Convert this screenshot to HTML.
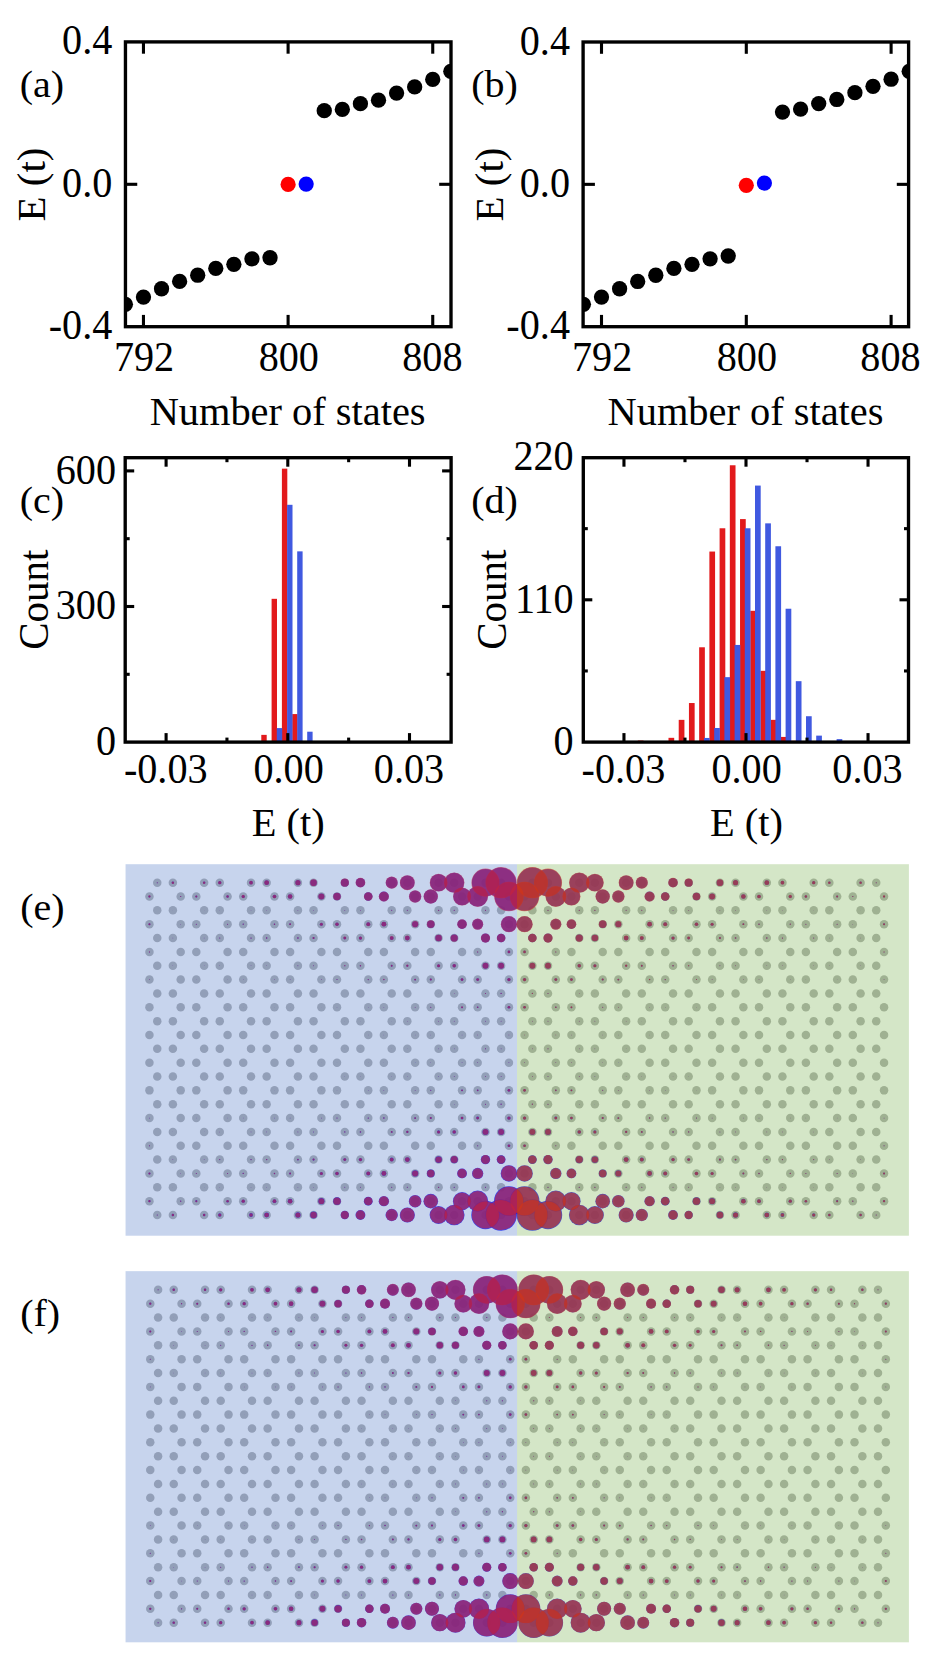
<!DOCTYPE html>
<html><head><meta charset="utf-8"><title>figure</title>
<style>
html,body{margin:0;padding:0;background:#fff;}
body{width:937px;height:1669px;overflow:hidden;font-family:"Liberation Serif",serif;}
svg{display:block;}
</style></head><body>
<svg width="937" height="1669" viewBox="0 0 937 1669">
<rect width="937" height="1669" fill="#fff"/>
<g fill="#000" font-family="'Liberation Serif',serif" font-size="40.2">
<clipPath id="clip1"><rect x="125.45" y="41.9" width="325.55" height="284.8"/></clipPath>
<g clip-path="url(#clip1)">
<circle cx="125.38" cy="304.31" r="7.65"/>
<circle cx="143.46" cy="297.05" r="7.65"/>
<circle cx="161.54" cy="288.75" r="7.65"/>
<circle cx="179.62" cy="281.45" r="7.65"/>
<circle cx="197.7" cy="275.22" r="7.65"/>
<circle cx="215.78" cy="268.42" r="7.65"/>
<circle cx="233.86" cy="264.33" r="7.65"/>
<circle cx="251.94" cy="258.81" r="7.65"/>
<circle cx="270.02" cy="257.74" r="7.65"/>
<circle cx="324.26" cy="110.71" r="7.65"/>
<circle cx="342.34" cy="109.43" r="7.65"/>
<circle cx="360.42" cy="103.63" r="7.65"/>
<circle cx="378.5" cy="100.14" r="7.65"/>
<circle cx="396.58" cy="93.06" r="7.65"/>
<circle cx="414.66" cy="86.9" r="7.65"/>
<circle cx="432.74" cy="79.46" r="7.65"/>
<circle cx="450.82" cy="71.31" r="7.65"/>
<circle cx="288.1" cy="184.44" r="7.6" fill="#ff0000"/>
<circle cx="306.18" cy="184.05" r="7.6" fill="#0000ff"/>
</g>
<rect x="125.45" y="41.9" width="325.55" height="284.8" fill="none" stroke="#000" stroke-width="3.35"/>
<line x1="143.46" y1="326.7" x2="143.46" y2="314.9" stroke="#000" stroke-width="3.1"/>
<line x1="143.46" y1="41.9" x2="143.46" y2="53.7" stroke="#000" stroke-width="3.1"/>
<line x1="288.1" y1="326.7" x2="288.1" y2="314.9" stroke="#000" stroke-width="3.1"/>
<line x1="288.1" y1="41.9" x2="288.1" y2="53.7" stroke="#000" stroke-width="3.1"/>
<line x1="432.74" y1="326.7" x2="432.74" y2="314.9" stroke="#000" stroke-width="3.1"/>
<line x1="432.74" y1="41.9" x2="432.74" y2="53.7" stroke="#000" stroke-width="3.1"/>
<line x1="125.45" y1="184.3" x2="137.25" y2="184.3" stroke="#000" stroke-width="3.1"/>
<line x1="451" y1="184.3" x2="439.2" y2="184.3" stroke="#000" stroke-width="3.1"/>
<text text-anchor="end" transform="translate(112.3 54.4) scale(1 1.045)">0.4</text>
<text text-anchor="end" transform="translate(112.3 196.8) scale(1 1.045)">0.0</text>
<text text-anchor="end" transform="translate(112.3 339.2) scale(1 1.045)">-0.4</text>
<text text-anchor="middle" transform="translate(144.05 371.3) scale(1 1.045)">792</text>
<text text-anchor="middle" transform="translate(288.8 371.3) scale(1 1.045)">800</text>
<text text-anchor="middle" transform="translate(432.35 371.3) scale(1 1.045)">808</text>
<text text-anchor="middle" font-size="40.4" transform="translate(287.6 424.7) scale(1 1.01)">Number of states</text>
<text text-anchor="middle" font-size="41.0" transform="translate(44.9 184.5) rotate(-90)">E (t)</text>
<text text-anchor="start" font-size="40.0" transform="translate(19.7 96.8) scale(1 0.95)">(a)</text>
<clipPath id="clip2"><rect x="583.1" y="42" width="325.5" height="284.7"/></clipPath>
<g clip-path="url(#clip2)">
<circle cx="583.4" cy="304.32" r="7.65"/>
<circle cx="601.5" cy="297.06" r="7.65"/>
<circle cx="619.6" cy="288.76" r="7.65"/>
<circle cx="637.7" cy="281.47" r="7.65"/>
<circle cx="655.8" cy="275.24" r="7.65"/>
<circle cx="673.9" cy="268.44" r="7.65"/>
<circle cx="692" cy="264.35" r="7.65"/>
<circle cx="710.1" cy="258.83" r="7.65"/>
<circle cx="728.2" cy="256.02" r="7.65"/>
<circle cx="782.5" cy="112.11" r="7.65"/>
<circle cx="800.6" cy="109.08" r="7.65"/>
<circle cx="818.7" cy="103.57" r="7.65"/>
<circle cx="836.8" cy="99.47" r="7.65"/>
<circle cx="854.9" cy="92.64" r="7.65"/>
<circle cx="873" cy="86.31" r="7.65"/>
<circle cx="891.1" cy="79.22" r="7.65"/>
<circle cx="909.2" cy="71.32" r="7.65"/>
<circle cx="746.3" cy="185.31" r="7.6" fill="#ff0000"/>
<circle cx="764.4" cy="183.03" r="7.6" fill="#0000ff"/>
</g>
<rect x="583.1" y="42" width="325.5" height="284.7" fill="none" stroke="#000" stroke-width="3.35"/>
<line x1="601.5" y1="326.7" x2="601.5" y2="314.9" stroke="#000" stroke-width="3.1"/>
<line x1="601.5" y1="42" x2="601.5" y2="53.8" stroke="#000" stroke-width="3.1"/>
<line x1="746.3" y1="326.7" x2="746.3" y2="314.9" stroke="#000" stroke-width="3.1"/>
<line x1="746.3" y1="42" x2="746.3" y2="53.8" stroke="#000" stroke-width="3.1"/>
<line x1="891.1" y1="326.7" x2="891.1" y2="314.9" stroke="#000" stroke-width="3.1"/>
<line x1="891.1" y1="42" x2="891.1" y2="53.8" stroke="#000" stroke-width="3.1"/>
<line x1="583.1" y1="184.35" x2="594.9" y2="184.35" stroke="#000" stroke-width="3.1"/>
<line x1="908.6" y1="184.35" x2="896.8" y2="184.35" stroke="#000" stroke-width="3.1"/>
<text text-anchor="end" transform="translate(570 54.5) scale(1 1.045)">0.4</text>
<text text-anchor="end" transform="translate(570 196.85) scale(1 1.045)">0.0</text>
<text text-anchor="end" transform="translate(570 339.2) scale(1 1.045)">-0.4</text>
<text text-anchor="middle" transform="translate(602.1 371.3) scale(1 1.045)">792</text>
<text text-anchor="middle" transform="translate(746.9 371.3) scale(1 1.045)">800</text>
<text text-anchor="middle" transform="translate(890.5 371.3) scale(1 1.045)">808</text>
<text text-anchor="middle" font-size="40.4" transform="translate(745.5 424.7) scale(1 1.01)">Number of states</text>
<text text-anchor="middle" font-size="41.0" transform="translate(502.6 184.5) rotate(-90)">E (t)</text>
<text text-anchor="start" font-size="40.0" transform="translate(471.3 97) scale(1 0.95)">(b)</text>
</g>
<g fill="#000" font-family="'Liberation Serif',serif" font-size="40.2">
<rect x="261.3" y="734.87" width="5.4" height="7.23" fill="#e21a1c"/>
<rect x="271.6" y="598.82" width="5.4" height="143.28" fill="#e21a1c"/>
<rect x="281.9" y="468.64" width="5.4" height="273.46" fill="#e21a1c"/>
<rect x="292.2" y="714.08" width="5.4" height="28.02" fill="#e21a1c"/>
<rect x="276.8" y="728.09" width="5.4" height="14.01" fill="#4059e0"/>
<rect x="287.1" y="504.8" width="5.4" height="237.3" fill="#4059e0"/>
<rect x="297.2" y="551.36" width="5.4" height="190.74" fill="#4059e0"/>
<rect x="307.2" y="731.7" width="5.4" height="10.4" fill="#4059e0"/>
<rect x="125.2" y="457.7" width="325.9" height="284.4" fill="none" stroke="#000" stroke-width="3.35"/>
<line x1="166.1" y1="742.1" x2="166.1" y2="733.1" stroke="#000" stroke-width="3.1"/>
<line x1="166.1" y1="457.7" x2="166.1" y2="466.7" stroke="#000" stroke-width="3.1"/>
<line x1="287.8" y1="742.1" x2="287.8" y2="733.1" stroke="#000" stroke-width="3.1"/>
<line x1="287.8" y1="457.7" x2="287.8" y2="466.7" stroke="#000" stroke-width="3.1"/>
<line x1="409.5" y1="742.1" x2="409.5" y2="733.1" stroke="#000" stroke-width="3.1"/>
<line x1="409.5" y1="457.7" x2="409.5" y2="466.7" stroke="#000" stroke-width="3.1"/>
<line x1="226.95" y1="742.1" x2="226.95" y2="737.6" stroke="#000" stroke-width="3.1"/>
<line x1="226.95" y1="457.7" x2="226.95" y2="462.2" stroke="#000" stroke-width="3.1"/>
<line x1="348.65" y1="742.1" x2="348.65" y2="737.6" stroke="#000" stroke-width="3.1"/>
<line x1="348.65" y1="457.7" x2="348.65" y2="462.2" stroke="#000" stroke-width="3.1"/>
<line x1="125.2" y1="470.9" x2="134.2" y2="470.9" stroke="#000" stroke-width="3.1"/>
<line x1="451.1" y1="470.9" x2="442.1" y2="470.9" stroke="#000" stroke-width="3.1"/>
<text text-anchor="end" transform="translate(116 483.6) scale(1 1.045)">600</text>
<line x1="125.2" y1="606.5" x2="134.2" y2="606.5" stroke="#000" stroke-width="3.1"/>
<line x1="451.1" y1="606.5" x2="442.1" y2="606.5" stroke="#000" stroke-width="3.1"/>
<text text-anchor="end" transform="translate(116 619.2) scale(1 1.045)">300</text>
<text text-anchor="end" transform="translate(116 754.8) scale(1 1.045)">0</text>
<line x1="125.2" y1="538.7" x2="129.7" y2="538.7" stroke="#000" stroke-width="3.1"/>
<line x1="451.1" y1="538.7" x2="446.6" y2="538.7" stroke="#000" stroke-width="3.1"/>
<line x1="125.2" y1="674.3" x2="129.7" y2="674.3" stroke="#000" stroke-width="3.1"/>
<line x1="451.1" y1="674.3" x2="446.6" y2="674.3" stroke="#000" stroke-width="3.1"/>
<text text-anchor="middle" transform="translate(165.75 782.9) scale(1 1.045)">-0.03</text>
<text text-anchor="middle" transform="translate(288.6 782.9) scale(1 1.045)">0.00</text>
<text text-anchor="middle" transform="translate(409 782.9) scale(1 1.045)">0.03</text>
<text text-anchor="middle" font-size="40.4" transform="translate(288.2 835.8) scale(1 1.01)">E (t)</text>
<text text-anchor="middle" font-size="41.0" transform="translate(47.9 599.65) rotate(-90) scale(1 1.05)">Count</text>
<text text-anchor="start" font-size="40.0" transform="translate(19.8 513.1) scale(1 0.95)">(c)</text>
<rect x="637.8" y="740.55" width="5.7" height="1.55" fill="#e21a1c"/>
<rect x="668.5" y="737.83" width="5.7" height="4.27" fill="#e21a1c"/>
<rect x="678.72" y="719.85" width="5.7" height="22.25" fill="#e21a1c"/>
<rect x="688.94" y="703.03" width="5.7" height="39.07" fill="#e21a1c"/>
<rect x="699.16" y="647.28" width="5.7" height="94.82" fill="#e21a1c"/>
<rect x="709.38" y="551.55" width="5.7" height="190.55" fill="#e21a1c"/>
<rect x="719.6" y="528.27" width="5.7" height="213.83" fill="#e21a1c"/>
<rect x="729.82" y="465.27" width="5.7" height="276.83" fill="#e21a1c"/>
<rect x="740.04" y="519.08" width="5.7" height="223.02" fill="#e21a1c"/>
<rect x="750.26" y="610.8" width="5.7" height="131.3" fill="#e21a1c"/>
<rect x="760.48" y="670.82" width="5.7" height="71.28" fill="#e21a1c"/>
<rect x="770.7" y="719.85" width="5.7" height="22.25" fill="#e21a1c"/>
<rect x="780.92" y="736.93" width="5.7" height="5.17" fill="#e21a1c"/>
<rect x="791.14" y="740.81" width="5.7" height="1.29" fill="#e21a1c"/>
<rect x="704" y="737.96" width="5.7" height="4.14" fill="#4059e0"/>
<rect x="714.2" y="728" width="5.7" height="14.1" fill="#4059e0"/>
<rect x="724.4" y="677.16" width="5.7" height="64.94" fill="#4059e0"/>
<rect x="734.6" y="644.95" width="5.7" height="97.15" fill="#4059e0"/>
<rect x="744.8" y="528.27" width="5.7" height="213.83" fill="#4059e0"/>
<rect x="755" y="485.58" width="5.7" height="256.52" fill="#4059e0"/>
<rect x="765.2" y="523.35" width="5.7" height="218.75" fill="#4059e0"/>
<rect x="775.4" y="546.25" width="5.7" height="195.85" fill="#4059e0"/>
<rect x="785.6" y="608.73" width="5.7" height="133.37" fill="#4059e0"/>
<rect x="795.8" y="681.17" width="5.7" height="60.93" fill="#4059e0"/>
<rect x="806" y="716.23" width="5.7" height="25.87" fill="#4059e0"/>
<rect x="816.2" y="735.63" width="5.7" height="6.47" fill="#4059e0"/>
<rect x="826.4" y="742.1" width="5.7" height="0" fill="#4059e0"/>
<rect x="836.6" y="739.12" width="5.7" height="2.98" fill="#4059e0"/>
<rect x="583.3" y="457.7" width="325.2" height="284.4" fill="none" stroke="#000" stroke-width="3.35"/>
<line x1="623.96" y1="742.1" x2="623.96" y2="733.1" stroke="#000" stroke-width="3.1"/>
<line x1="623.96" y1="457.7" x2="623.96" y2="466.7" stroke="#000" stroke-width="3.1"/>
<line x1="746" y1="742.1" x2="746" y2="733.1" stroke="#000" stroke-width="3.1"/>
<line x1="746" y1="457.7" x2="746" y2="466.7" stroke="#000" stroke-width="3.1"/>
<line x1="868.04" y1="742.1" x2="868.04" y2="733.1" stroke="#000" stroke-width="3.1"/>
<line x1="868.04" y1="457.7" x2="868.04" y2="466.7" stroke="#000" stroke-width="3.1"/>
<line x1="684.98" y1="742.1" x2="684.98" y2="737.6" stroke="#000" stroke-width="3.1"/>
<line x1="684.98" y1="457.7" x2="684.98" y2="462.2" stroke="#000" stroke-width="3.1"/>
<line x1="807.02" y1="742.1" x2="807.02" y2="737.6" stroke="#000" stroke-width="3.1"/>
<line x1="807.02" y1="457.7" x2="807.02" y2="462.2" stroke="#000" stroke-width="3.1"/>
<text text-anchor="end" transform="translate(573.7 470.21) scale(1 1.045)">220</text>
<line x1="583.3" y1="599.8" x2="592.3" y2="599.8" stroke="#000" stroke-width="3.1"/>
<line x1="908.5" y1="599.8" x2="899.5" y2="599.8" stroke="#000" stroke-width="3.1"/>
<text text-anchor="end" transform="translate(573.7 612.5) scale(1 1.045)">110</text>
<text text-anchor="end" transform="translate(573.7 754.8) scale(1 1.045)">0</text>
<line x1="583.3" y1="528.66" x2="587.8" y2="528.66" stroke="#000" stroke-width="3.1"/>
<line x1="908.5" y1="528.66" x2="904" y2="528.66" stroke="#000" stroke-width="3.1"/>
<line x1="583.3" y1="670.95" x2="587.8" y2="670.95" stroke="#000" stroke-width="3.1"/>
<line x1="908.5" y1="670.95" x2="904" y2="670.95" stroke="#000" stroke-width="3.1"/>
<text text-anchor="middle" transform="translate(623.4 782.9) scale(1 1.045)">-0.03</text>
<text text-anchor="middle" transform="translate(746.6 782.9) scale(1 1.045)">0.00</text>
<text text-anchor="middle" transform="translate(867.5 782.9) scale(1 1.045)">0.03</text>
<text text-anchor="middle" font-size="40.4" transform="translate(746.5 835.8) scale(1 1.01)">E (t)</text>
<text text-anchor="middle" font-size="41.0" transform="translate(506.2 599.65) rotate(-90) scale(1 1.05)">Count</text>
<text text-anchor="start" font-size="40.0" transform="translate(471.3 513) scale(1 0.95)">(d)</text>
</g>
<defs><g id="ro1">
<circle cx="157.25" r="4.25"/>
<circle cx="172.88" r="4.25"/>
<circle cx="204.14" r="4.25"/>
<circle cx="219.77" r="4.25"/>
<circle cx="251.03" r="4.25"/>
<circle cx="266.66" r="4.25"/>
<circle cx="297.92" r="4.25"/>
<circle cx="313.55" r="4.25"/>
<circle cx="344.81" r="4.25"/>
<circle cx="360.44" r="4.25"/>
<circle cx="391.7" r="4.25"/>
<circle cx="407.33" r="4.25"/>
<circle cx="438.59" r="4.25"/>
<circle cx="454.22" r="4.25"/>
<circle cx="485.48" r="4.25"/>
<circle cx="501.11" r="4.25"/>
<circle cx="532.37" r="4.25"/>
<circle cx="548" r="4.25"/>
<circle cx="579.26" r="4.25"/>
<circle cx="594.89" r="4.25"/>
<circle cx="626.15" r="4.25"/>
<circle cx="641.78" r="4.25"/>
<circle cx="673.04" r="4.25"/>
<circle cx="688.67" r="4.25"/>
<circle cx="719.93" r="4.25"/>
<circle cx="735.56" r="4.25"/>
<circle cx="766.82" r="4.25"/>
<circle cx="782.45" r="4.25"/>
<circle cx="813.71" r="4.25"/>
<circle cx="829.34" r="4.25"/>
<circle cx="860.6" r="4.25"/>
<circle cx="876.23" r="4.25"/>
</g><g id="re1">
<circle cx="149.44" r="4.25"/>
<circle cx="180.69" r="4.25"/>
<circle cx="196.32" r="4.25"/>
<circle cx="227.58" r="4.25"/>
<circle cx="243.22" r="4.25"/>
<circle cx="274.48" r="4.25"/>
<circle cx="290.11" r="4.25"/>
<circle cx="321.37" r="4.25"/>
<circle cx="337" r="4.25"/>
<circle cx="368.25" r="4.25"/>
<circle cx="383.88" r="4.25"/>
<circle cx="415.14" r="4.25"/>
<circle cx="430.78" r="4.25"/>
<circle cx="462.04" r="4.25"/>
<circle cx="477.67" r="4.25"/>
<circle cx="508.93" r="4.25"/>
<circle cx="524.56" r="4.25"/>
<circle cx="555.82" r="4.25"/>
<circle cx="571.44" r="4.25"/>
<circle cx="602.7" r="4.25"/>
<circle cx="618.34" r="4.25"/>
<circle cx="649.6" r="4.25"/>
<circle cx="665.22" r="4.25"/>
<circle cx="696.48" r="4.25"/>
<circle cx="712.12" r="4.25"/>
<circle cx="743.38" r="4.25"/>
<circle cx="759.01" r="4.25"/>
<circle cx="790.27" r="4.25"/>
<circle cx="805.89" r="4.25"/>
<circle cx="837.15" r="4.25"/>
<circle cx="852.79" r="4.25"/>
<circle cx="884.05" r="4.25"/>
</g></defs>
<g fill="#b4b4b4">
<use href="#ro1" y="882.65"/>
<use href="#re1" y="896.5"/>
<use href="#ro1" y="910.35"/>
<use href="#re1" y="924.19"/>
<use href="#ro1" y="938.04"/>
<use href="#re1" y="951.89"/>
<use href="#ro1" y="965.74"/>
<use href="#re1" y="979.59"/>
<use href="#ro1" y="993.43"/>
<use href="#re1" y="1007.28"/>
<use href="#ro1" y="1021.13"/>
<use href="#re1" y="1034.98"/>
<use href="#ro1" y="1048.83"/>
<use href="#re1" y="1062.67"/>
<use href="#ro1" y="1076.52"/>
<use href="#re1" y="1090.37"/>
<use href="#ro1" y="1104.22"/>
<use href="#re1" y="1118.07"/>
<use href="#ro1" y="1131.91"/>
<use href="#re1" y="1145.76"/>
<use href="#ro1" y="1159.61"/>
<use href="#re1" y="1173.46"/>
<use href="#ro1" y="1187.31"/>
<use href="#re1" y="1201.15"/>
<use href="#ro1" y="1215"/>
</g>
<g fill="#0000ff" fill-opacity="0.8">
<circle cx="157.25" cy="882.65" r="0.5"/>
<circle cx="172.88" cy="882.65" r="1.2"/>
<circle cx="204.14" cy="882.65" r="1.2"/>
<circle cx="219.77" cy="882.65" r="1.6"/>
<circle cx="251.03" cy="882.65" r="1.8"/>
<circle cx="266.66" cy="882.65" r="2.35"/>
<circle cx="297.92" cy="882.65" r="2.55"/>
<circle cx="313.55" cy="882.65" r="3.25"/>
<circle cx="344.81" cy="882.65" r="3.95"/>
<circle cx="360.44" cy="882.65" r="4.7"/>
<circle cx="391.7" cy="882.65" r="5.9"/>
<circle cx="407.33" cy="882.65" r="7.25"/>
<circle cx="438.59" cy="882.65" r="8.6"/>
<circle cx="454.22" cy="882.65" r="9.9"/>
<circle cx="485.48" cy="882.65" r="13.6"/>
<circle cx="501.11" cy="882.65" r="15.1"/>
<circle cx="532.37" cy="882.65" r="15.1"/>
<circle cx="548" cy="882.65" r="13.6"/>
<circle cx="579.26" cy="882.65" r="9.9"/>
<circle cx="594.89" cy="882.65" r="8.6"/>
<circle cx="626.15" cy="882.65" r="7.25"/>
<circle cx="641.78" cy="882.65" r="5.9"/>
<circle cx="673.04" cy="882.65" r="4.7"/>
<circle cx="688.67" cy="882.65" r="3.95"/>
<circle cx="719.93" cy="882.65" r="3.25"/>
<circle cx="735.56" cy="882.65" r="2.55"/>
<circle cx="766.82" cy="882.65" r="2.35"/>
<circle cx="782.45" cy="882.65" r="1.8"/>
<circle cx="813.71" cy="882.65" r="1.6"/>
<circle cx="829.34" cy="882.65" r="1.2"/>
<circle cx="860.6" cy="882.65" r="1.2"/>
<circle cx="876.23" cy="882.65" r="0.5"/>
<circle cx="149.44" cy="896.5" r="1.1"/>
<circle cx="180.69" cy="896.5" r="0.6"/>
<circle cx="196.32" cy="896.5" r="1"/>
<circle cx="227.58" cy="896.5" r="1.2"/>
<circle cx="243.22" cy="896.5" r="1.6"/>
<circle cx="274.48" cy="896.5" r="1.8"/>
<circle cx="290.11" cy="896.5" r="2.25"/>
<circle cx="321.37" cy="896.5" r="2.95"/>
<circle cx="337" cy="896.5" r="3.65"/>
<circle cx="368.25" cy="896.5" r="4.2"/>
<circle cx="383.88" cy="896.5" r="4.96"/>
<circle cx="415.14" cy="896.5" r="6"/>
<circle cx="430.78" cy="896.5" r="7"/>
<circle cx="462.04" cy="896.5" r="8.75"/>
<circle cx="477.67" cy="896.5" r="10.1"/>
<circle cx="508.93" cy="896.5" r="14.3"/>
<circle cx="524.56" cy="896.5" r="14.3"/>
<circle cx="555.82" cy="896.5" r="10.1"/>
<circle cx="571.44" cy="896.5" r="8.75"/>
<circle cx="602.7" cy="896.5" r="7"/>
<circle cx="618.34" cy="896.5" r="6"/>
<circle cx="649.6" cy="896.5" r="4.96"/>
<circle cx="665.22" cy="896.5" r="4.2"/>
<circle cx="696.48" cy="896.5" r="3.65"/>
<circle cx="712.12" cy="896.5" r="2.95"/>
<circle cx="743.38" cy="896.5" r="2.25"/>
<circle cx="759.01" cy="896.5" r="1.8"/>
<circle cx="790.27" cy="896.5" r="1.6"/>
<circle cx="805.89" cy="896.5" r="1.2"/>
<circle cx="837.15" cy="896.5" r="1"/>
<circle cx="852.79" cy="896.5" r="0.6"/>
<circle cx="884.05" cy="896.5" r="1.1"/>
<circle cx="172.88" cy="910.35" r="0.12"/>
<circle cx="204.14" cy="910.35" r="0.16"/>
<circle cx="219.77" cy="910.35" r="0.19"/>
<circle cx="251.03" cy="910.35" r="0.23"/>
<circle cx="266.66" cy="910.35" r="0.25"/>
<circle cx="297.92" cy="910.35" r="0.3"/>
<circle cx="313.55" cy="910.35" r="0.3"/>
<circle cx="344.81" cy="910.35" r="0.45"/>
<circle cx="360.44" cy="910.35" r="0.45"/>
<circle cx="391.7" cy="910.35" r="0.5"/>
<circle cx="407.33" cy="910.35" r="0.5"/>
<circle cx="438.59" cy="910.35" r="0.6"/>
<circle cx="454.22" cy="910.35" r="0.55"/>
<circle cx="485.48" cy="910.35" r="0.55"/>
<circle cx="548" cy="910.35" r="0.55"/>
<circle cx="579.26" cy="910.35" r="0.55"/>
<circle cx="594.89" cy="910.35" r="0.6"/>
<circle cx="626.15" cy="910.35" r="0.5"/>
<circle cx="641.78" cy="910.35" r="0.5"/>
<circle cx="673.04" cy="910.35" r="0.45"/>
<circle cx="688.67" cy="910.35" r="0.45"/>
<circle cx="719.93" cy="910.35" r="0.3"/>
<circle cx="735.56" cy="910.35" r="0.3"/>
<circle cx="766.82" cy="910.35" r="0.25"/>
<circle cx="782.45" cy="910.35" r="0.23"/>
<circle cx="813.71" cy="910.35" r="0.19"/>
<circle cx="829.34" cy="910.35" r="0.16"/>
<circle cx="860.6" cy="910.35" r="0.12"/>
<circle cx="149.44" cy="924.19" r="1"/>
<circle cx="180.69" cy="924.19" r="0.3"/>
<circle cx="196.32" cy="924.19" r="0.5"/>
<circle cx="227.58" cy="924.19" r="0.5"/>
<circle cx="243.22" cy="924.19" r="0.6"/>
<circle cx="274.48" cy="924.19" r="0.7"/>
<circle cx="290.11" cy="924.19" r="0.9"/>
<circle cx="321.37" cy="924.19" r="1.5"/>
<circle cx="337" cy="924.19" r="1.7"/>
<circle cx="368.25" cy="924.19" r="1.9"/>
<circle cx="383.88" cy="924.19" r="2.35"/>
<circle cx="415.14" cy="924.19" r="3"/>
<circle cx="430.78" cy="924.19" r="3.7"/>
<circle cx="462.04" cy="924.19" r="4.7"/>
<circle cx="477.67" cy="924.19" r="5.4"/>
<circle cx="508.93" cy="924.19" r="7.9"/>
<circle cx="524.56" cy="924.19" r="7.9"/>
<circle cx="555.82" cy="924.19" r="5.4"/>
<circle cx="571.44" cy="924.19" r="4.7"/>
<circle cx="602.7" cy="924.19" r="3.7"/>
<circle cx="618.34" cy="924.19" r="3"/>
<circle cx="649.6" cy="924.19" r="2.35"/>
<circle cx="665.22" cy="924.19" r="1.9"/>
<circle cx="696.48" cy="924.19" r="1.7"/>
<circle cx="712.12" cy="924.19" r="1.5"/>
<circle cx="743.38" cy="924.19" r="0.9"/>
<circle cx="759.01" cy="924.19" r="0.7"/>
<circle cx="790.27" cy="924.19" r="0.6"/>
<circle cx="805.89" cy="924.19" r="0.5"/>
<circle cx="837.15" cy="924.19" r="0.5"/>
<circle cx="852.79" cy="924.19" r="0.3"/>
<circle cx="884.05" cy="924.19" r="1"/>
<circle cx="172.88" cy="938.04" r="0.3"/>
<circle cx="204.14" cy="938.04" r="0.3"/>
<circle cx="219.77" cy="938.04" r="0.5"/>
<circle cx="251.03" cy="938.04" r="0.6"/>
<circle cx="266.66" cy="938.04" r="0.7"/>
<circle cx="297.92" cy="938.04" r="0.8"/>
<circle cx="313.55" cy="938.04" r="1"/>
<circle cx="344.81" cy="938.04" r="1.4"/>
<circle cx="360.44" cy="938.04" r="1.6"/>
<circle cx="391.7" cy="938.04" r="1.9"/>
<circle cx="407.33" cy="938.04" r="2.35"/>
<circle cx="438.59" cy="938.04" r="3.2"/>
<circle cx="454.22" cy="938.04" r="3.5"/>
<circle cx="485.48" cy="938.04" r="4.5"/>
<circle cx="501.11" cy="938.04" r="4.2"/>
<circle cx="532.37" cy="938.04" r="4.2"/>
<circle cx="548" cy="938.04" r="4.5"/>
<circle cx="579.26" cy="938.04" r="3.5"/>
<circle cx="594.89" cy="938.04" r="3.2"/>
<circle cx="626.15" cy="938.04" r="2.35"/>
<circle cx="641.78" cy="938.04" r="1.9"/>
<circle cx="673.04" cy="938.04" r="1.6"/>
<circle cx="688.67" cy="938.04" r="1.4"/>
<circle cx="719.93" cy="938.04" r="1"/>
<circle cx="735.56" cy="938.04" r="0.8"/>
<circle cx="766.82" cy="938.04" r="0.7"/>
<circle cx="782.45" cy="938.04" r="0.6"/>
<circle cx="813.71" cy="938.04" r="0.5"/>
<circle cx="829.34" cy="938.04" r="0.3"/>
<circle cx="860.6" cy="938.04" r="0.3"/>
<circle cx="149.44" cy="951.89" r="0.5"/>
<circle cx="462.04" cy="951.89" r="0.15"/>
<circle cx="477.67" cy="951.89" r="0.5"/>
<circle cx="508.93" cy="951.89" r="1.3"/>
<circle cx="524.56" cy="951.89" r="1.3"/>
<circle cx="555.82" cy="951.89" r="0.5"/>
<circle cx="571.44" cy="951.89" r="0.15"/>
<circle cx="884.05" cy="951.89" r="0.5"/>
<circle cx="172.88" cy="965.74" r="0.2"/>
<circle cx="204.14" cy="965.74" r="0.2"/>
<circle cx="219.77" cy="965.74" r="0.25"/>
<circle cx="251.03" cy="965.74" r="0.3"/>
<circle cx="266.66" cy="965.74" r="0.3"/>
<circle cx="297.92" cy="965.74" r="0.4"/>
<circle cx="313.55" cy="965.74" r="0.45"/>
<circle cx="344.81" cy="965.74" r="0.6"/>
<circle cx="360.44" cy="965.74" r="0.7"/>
<circle cx="391.7" cy="965.74" r="0.9"/>
<circle cx="407.33" cy="965.74" r="1.1"/>
<circle cx="438.59" cy="965.74" r="1.5"/>
<circle cx="454.22" cy="965.74" r="1.7"/>
<circle cx="485.48" cy="965.74" r="2.9"/>
<circle cx="501.11" cy="965.74" r="2.9"/>
<circle cx="532.37" cy="965.74" r="2.9"/>
<circle cx="548" cy="965.74" r="2.9"/>
<circle cx="579.26" cy="965.74" r="1.7"/>
<circle cx="594.89" cy="965.74" r="1.5"/>
<circle cx="626.15" cy="965.74" r="1.1"/>
<circle cx="641.78" cy="965.74" r="0.9"/>
<circle cx="673.04" cy="965.74" r="0.7"/>
<circle cx="688.67" cy="965.74" r="0.6"/>
<circle cx="719.93" cy="965.74" r="0.45"/>
<circle cx="735.56" cy="965.74" r="0.4"/>
<circle cx="766.82" cy="965.74" r="0.3"/>
<circle cx="782.45" cy="965.74" r="0.3"/>
<circle cx="813.71" cy="965.74" r="0.25"/>
<circle cx="829.34" cy="965.74" r="0.2"/>
<circle cx="860.6" cy="965.74" r="0.2"/>
<circle cx="149.44" cy="979.59" r="0.4"/>
<circle cx="196.32" cy="979.59" r="0.2"/>
<circle cx="227.58" cy="979.59" r="0.2"/>
<circle cx="243.22" cy="979.59" r="0.25"/>
<circle cx="274.48" cy="979.59" r="0.3"/>
<circle cx="290.11" cy="979.59" r="0.3"/>
<circle cx="321.37" cy="979.59" r="0.4"/>
<circle cx="337" cy="979.59" r="0.5"/>
<circle cx="368.25" cy="979.59" r="0.6"/>
<circle cx="383.88" cy="979.59" r="0.7"/>
<circle cx="415.14" cy="979.59" r="0.9"/>
<circle cx="430.78" cy="979.59" r="1"/>
<circle cx="462.04" cy="979.59" r="1.3"/>
<circle cx="477.67" cy="979.59" r="1.4"/>
<circle cx="508.93" cy="979.59" r="1.6"/>
<circle cx="524.56" cy="979.59" r="1.6"/>
<circle cx="555.82" cy="979.59" r="1.4"/>
<circle cx="571.44" cy="979.59" r="1.3"/>
<circle cx="602.7" cy="979.59" r="1"/>
<circle cx="618.34" cy="979.59" r="0.9"/>
<circle cx="649.6" cy="979.59" r="0.7"/>
<circle cx="665.22" cy="979.59" r="0.6"/>
<circle cx="696.48" cy="979.59" r="0.5"/>
<circle cx="712.12" cy="979.59" r="0.4"/>
<circle cx="743.38" cy="979.59" r="0.3"/>
<circle cx="759.01" cy="979.59" r="0.3"/>
<circle cx="790.27" cy="979.59" r="0.25"/>
<circle cx="805.89" cy="979.59" r="0.2"/>
<circle cx="837.15" cy="979.59" r="0.2"/>
<circle cx="884.05" cy="979.59" r="0.4"/>
<circle cx="438.59" cy="993.43" r="0.15"/>
<circle cx="454.22" cy="993.43" r="0.3"/>
<circle cx="485.48" cy="993.43" r="0.5"/>
<circle cx="501.11" cy="993.43" r="0.6"/>
<circle cx="532.37" cy="993.43" r="0.6"/>
<circle cx="548" cy="993.43" r="0.5"/>
<circle cx="579.26" cy="993.43" r="0.3"/>
<circle cx="594.89" cy="993.43" r="0.15"/>
<circle cx="227.58" cy="1007.28" r="0.12"/>
<circle cx="243.22" cy="1007.28" r="0.13"/>
<circle cx="274.48" cy="1007.28" r="0.14"/>
<circle cx="290.11" cy="1007.28" r="0.14"/>
<circle cx="321.37" cy="1007.28" r="0.15"/>
<circle cx="337" cy="1007.28" r="0.18"/>
<circle cx="368.25" cy="1007.28" r="0.25"/>
<circle cx="383.88" cy="1007.28" r="0.3"/>
<circle cx="415.14" cy="1007.28" r="0.4"/>
<circle cx="430.78" cy="1007.28" r="0.5"/>
<circle cx="462.04" cy="1007.28" r="0.9"/>
<circle cx="477.67" cy="1007.28" r="0.8"/>
<circle cx="508.93" cy="1007.28" r="1.3"/>
<circle cx="524.56" cy="1007.28" r="1.3"/>
<circle cx="555.82" cy="1007.28" r="0.8"/>
<circle cx="571.44" cy="1007.28" r="0.9"/>
<circle cx="602.7" cy="1007.28" r="0.5"/>
<circle cx="618.34" cy="1007.28" r="0.4"/>
<circle cx="649.6" cy="1007.28" r="0.3"/>
<circle cx="665.22" cy="1007.28" r="0.25"/>
<circle cx="696.48" cy="1007.28" r="0.18"/>
<circle cx="712.12" cy="1007.28" r="0.15"/>
<circle cx="743.38" cy="1007.28" r="0.14"/>
<circle cx="759.01" cy="1007.28" r="0.14"/>
<circle cx="790.27" cy="1007.28" r="0.13"/>
<circle cx="805.89" cy="1007.28" r="0.12"/>
<circle cx="297.92" cy="1021.13" r="0.12"/>
<circle cx="313.55" cy="1021.13" r="0.13"/>
<circle cx="344.81" cy="1021.13" r="0.16"/>
<circle cx="360.44" cy="1021.13" r="0.17"/>
<circle cx="391.7" cy="1021.13" r="0.2"/>
<circle cx="407.33" cy="1021.13" r="0.25"/>
<circle cx="438.59" cy="1021.13" r="0.35"/>
<circle cx="454.22" cy="1021.13" r="0.4"/>
<circle cx="485.48" cy="1021.13" r="0.45"/>
<circle cx="501.11" cy="1021.13" r="0.4"/>
<circle cx="532.37" cy="1021.13" r="0.4"/>
<circle cx="548" cy="1021.13" r="0.45"/>
<circle cx="579.26" cy="1021.13" r="0.4"/>
<circle cx="594.89" cy="1021.13" r="0.35"/>
<circle cx="626.15" cy="1021.13" r="0.25"/>
<circle cx="641.78" cy="1021.13" r="0.2"/>
<circle cx="673.04" cy="1021.13" r="0.17"/>
<circle cx="688.67" cy="1021.13" r="0.16"/>
<circle cx="719.93" cy="1021.13" r="0.13"/>
<circle cx="321.37" cy="1034.98" r="0.13"/>
<circle cx="337" cy="1034.98" r="0.14"/>
<circle cx="368.25" cy="1034.98" r="0.16"/>
<circle cx="383.88" cy="1034.98" r="0.18"/>
<circle cx="415.14" cy="1034.98" r="0.2"/>
<circle cx="430.78" cy="1034.98" r="0.23"/>
<circle cx="462.04" cy="1034.98" r="0.3"/>
<circle cx="477.67" cy="1034.98" r="0.35"/>
<circle cx="508.93" cy="1034.98" r="0.35"/>
<circle cx="524.56" cy="1034.98" r="0.35"/>
<circle cx="555.82" cy="1034.98" r="0.35"/>
<circle cx="571.44" cy="1034.98" r="0.3"/>
<circle cx="602.7" cy="1034.98" r="0.23"/>
<circle cx="618.34" cy="1034.98" r="0.2"/>
<circle cx="649.6" cy="1034.98" r="0.18"/>
<circle cx="665.22" cy="1034.98" r="0.16"/>
<circle cx="696.48" cy="1034.98" r="0.14"/>
<circle cx="712.12" cy="1034.98" r="0.13"/>
<circle cx="344.81" cy="1048.83" r="0.12"/>
<circle cx="360.44" cy="1048.83" r="0.13"/>
<circle cx="391.7" cy="1048.83" r="0.15"/>
<circle cx="407.33" cy="1048.83" r="0.2"/>
<circle cx="438.59" cy="1048.83" r="0.3"/>
<circle cx="454.22" cy="1048.83" r="0.3"/>
<circle cx="485.48" cy="1048.83" r="0.5"/>
<circle cx="501.11" cy="1048.83" r="0.4"/>
<circle cx="532.37" cy="1048.83" r="0.4"/>
<circle cx="548" cy="1048.83" r="0.5"/>
<circle cx="579.26" cy="1048.83" r="0.3"/>
<circle cx="594.89" cy="1048.83" r="0.3"/>
<circle cx="626.15" cy="1048.83" r="0.2"/>
<circle cx="641.78" cy="1048.83" r="0.15"/>
<circle cx="673.04" cy="1048.83" r="0.13"/>
<circle cx="688.67" cy="1048.83" r="0.12"/>
<circle cx="321.37" cy="1062.67" r="0.14"/>
<circle cx="337" cy="1062.67" r="0.15"/>
<circle cx="368.25" cy="1062.67" r="0.17"/>
<circle cx="383.88" cy="1062.67" r="0.18"/>
<circle cx="415.14" cy="1062.67" r="0.21"/>
<circle cx="430.78" cy="1062.67" r="0.24"/>
<circle cx="462.04" cy="1062.67" r="0.31"/>
<circle cx="477.67" cy="1062.67" r="0.37"/>
<circle cx="508.93" cy="1062.67" r="0.37"/>
<circle cx="524.56" cy="1062.67" r="0.37"/>
<circle cx="555.82" cy="1062.67" r="0.37"/>
<circle cx="571.44" cy="1062.67" r="0.31"/>
<circle cx="602.7" cy="1062.67" r="0.24"/>
<circle cx="618.34" cy="1062.67" r="0.21"/>
<circle cx="649.6" cy="1062.67" r="0.18"/>
<circle cx="665.22" cy="1062.67" r="0.17"/>
<circle cx="696.48" cy="1062.67" r="0.15"/>
<circle cx="712.12" cy="1062.67" r="0.14"/>
<circle cx="297.92" cy="1076.52" r="0.13"/>
<circle cx="313.55" cy="1076.52" r="0.14"/>
<circle cx="344.81" cy="1076.52" r="0.17"/>
<circle cx="360.44" cy="1076.52" r="0.18"/>
<circle cx="391.7" cy="1076.52" r="0.21"/>
<circle cx="407.33" cy="1076.52" r="0.26"/>
<circle cx="438.59" cy="1076.52" r="0.37"/>
<circle cx="454.22" cy="1076.52" r="0.42"/>
<circle cx="485.48" cy="1076.52" r="0.47"/>
<circle cx="501.11" cy="1076.52" r="0.42"/>
<circle cx="532.37" cy="1076.52" r="0.42"/>
<circle cx="548" cy="1076.52" r="0.47"/>
<circle cx="579.26" cy="1076.52" r="0.42"/>
<circle cx="594.89" cy="1076.52" r="0.37"/>
<circle cx="626.15" cy="1076.52" r="0.26"/>
<circle cx="641.78" cy="1076.52" r="0.21"/>
<circle cx="673.04" cy="1076.52" r="0.18"/>
<circle cx="688.67" cy="1076.52" r="0.17"/>
<circle cx="719.93" cy="1076.52" r="0.14"/>
<circle cx="227.58" cy="1090.37" r="0.13"/>
<circle cx="243.22" cy="1090.37" r="0.13"/>
<circle cx="274.48" cy="1090.37" r="0.14"/>
<circle cx="290.11" cy="1090.37" r="0.15"/>
<circle cx="321.37" cy="1090.37" r="0.16"/>
<circle cx="337" cy="1090.37" r="0.19"/>
<circle cx="368.25" cy="1090.37" r="0.26"/>
<circle cx="383.88" cy="1090.37" r="0.31"/>
<circle cx="415.14" cy="1090.37" r="0.42"/>
<circle cx="430.78" cy="1090.37" r="0.52"/>
<circle cx="462.04" cy="1090.37" r="0.94"/>
<circle cx="477.67" cy="1090.37" r="0.84"/>
<circle cx="508.93" cy="1090.37" r="1.36"/>
<circle cx="524.56" cy="1090.37" r="1.36"/>
<circle cx="555.82" cy="1090.37" r="0.84"/>
<circle cx="571.44" cy="1090.37" r="0.94"/>
<circle cx="602.7" cy="1090.37" r="0.52"/>
<circle cx="618.34" cy="1090.37" r="0.42"/>
<circle cx="649.6" cy="1090.37" r="0.31"/>
<circle cx="665.22" cy="1090.37" r="0.26"/>
<circle cx="696.48" cy="1090.37" r="0.19"/>
<circle cx="712.12" cy="1090.37" r="0.16"/>
<circle cx="743.38" cy="1090.37" r="0.15"/>
<circle cx="759.01" cy="1090.37" r="0.14"/>
<circle cx="790.27" cy="1090.37" r="0.13"/>
<circle cx="805.89" cy="1090.37" r="0.13"/>
<circle cx="438.59" cy="1104.22" r="0.16"/>
<circle cx="454.22" cy="1104.22" r="0.31"/>
<circle cx="485.48" cy="1104.22" r="0.52"/>
<circle cx="501.11" cy="1104.22" r="0.63"/>
<circle cx="532.37" cy="1104.22" r="0.63"/>
<circle cx="548" cy="1104.22" r="0.52"/>
<circle cx="579.26" cy="1104.22" r="0.31"/>
<circle cx="594.89" cy="1104.22" r="0.16"/>
<circle cx="149.44" cy="1118.07" r="0.42"/>
<circle cx="196.32" cy="1118.07" r="0.21"/>
<circle cx="227.58" cy="1118.07" r="0.21"/>
<circle cx="243.22" cy="1118.07" r="0.26"/>
<circle cx="274.48" cy="1118.07" r="0.31"/>
<circle cx="290.11" cy="1118.07" r="0.31"/>
<circle cx="321.37" cy="1118.07" r="0.42"/>
<circle cx="337" cy="1118.07" r="0.52"/>
<circle cx="368.25" cy="1118.07" r="0.63"/>
<circle cx="383.88" cy="1118.07" r="0.73"/>
<circle cx="415.14" cy="1118.07" r="0.94"/>
<circle cx="430.78" cy="1118.07" r="1.05"/>
<circle cx="462.04" cy="1118.07" r="1.36"/>
<circle cx="477.67" cy="1118.07" r="1.46"/>
<circle cx="508.93" cy="1118.07" r="1.67"/>
<circle cx="524.56" cy="1118.07" r="1.67"/>
<circle cx="555.82" cy="1118.07" r="1.46"/>
<circle cx="571.44" cy="1118.07" r="1.36"/>
<circle cx="602.7" cy="1118.07" r="1.05"/>
<circle cx="618.34" cy="1118.07" r="0.94"/>
<circle cx="649.6" cy="1118.07" r="0.73"/>
<circle cx="665.22" cy="1118.07" r="0.63"/>
<circle cx="696.48" cy="1118.07" r="0.52"/>
<circle cx="712.12" cy="1118.07" r="0.42"/>
<circle cx="743.38" cy="1118.07" r="0.31"/>
<circle cx="759.01" cy="1118.07" r="0.31"/>
<circle cx="790.27" cy="1118.07" r="0.26"/>
<circle cx="805.89" cy="1118.07" r="0.21"/>
<circle cx="837.15" cy="1118.07" r="0.21"/>
<circle cx="884.05" cy="1118.07" r="0.42"/>
<circle cx="172.88" cy="1131.91" r="0.21"/>
<circle cx="204.14" cy="1131.91" r="0.21"/>
<circle cx="219.77" cy="1131.91" r="0.26"/>
<circle cx="251.03" cy="1131.91" r="0.31"/>
<circle cx="266.66" cy="1131.91" r="0.31"/>
<circle cx="297.92" cy="1131.91" r="0.42"/>
<circle cx="313.55" cy="1131.91" r="0.47"/>
<circle cx="344.81" cy="1131.91" r="0.63"/>
<circle cx="360.44" cy="1131.91" r="0.73"/>
<circle cx="391.7" cy="1131.91" r="0.94"/>
<circle cx="407.33" cy="1131.91" r="1.15"/>
<circle cx="438.59" cy="1131.91" r="1.57"/>
<circle cx="454.22" cy="1131.91" r="1.78"/>
<circle cx="485.48" cy="1131.91" r="3.03"/>
<circle cx="501.11" cy="1131.91" r="3.03"/>
<circle cx="532.37" cy="1131.91" r="3.03"/>
<circle cx="548" cy="1131.91" r="3.03"/>
<circle cx="579.26" cy="1131.91" r="1.78"/>
<circle cx="594.89" cy="1131.91" r="1.57"/>
<circle cx="626.15" cy="1131.91" r="1.15"/>
<circle cx="641.78" cy="1131.91" r="0.94"/>
<circle cx="673.04" cy="1131.91" r="0.73"/>
<circle cx="688.67" cy="1131.91" r="0.63"/>
<circle cx="719.93" cy="1131.91" r="0.47"/>
<circle cx="735.56" cy="1131.91" r="0.42"/>
<circle cx="766.82" cy="1131.91" r="0.31"/>
<circle cx="782.45" cy="1131.91" r="0.31"/>
<circle cx="813.71" cy="1131.91" r="0.26"/>
<circle cx="829.34" cy="1131.91" r="0.21"/>
<circle cx="860.6" cy="1131.91" r="0.21"/>
<circle cx="149.44" cy="1145.76" r="0.52"/>
<circle cx="462.04" cy="1145.76" r="0.16"/>
<circle cx="477.67" cy="1145.76" r="0.52"/>
<circle cx="508.93" cy="1145.76" r="1.36"/>
<circle cx="524.56" cy="1145.76" r="1.36"/>
<circle cx="555.82" cy="1145.76" r="0.52"/>
<circle cx="571.44" cy="1145.76" r="0.16"/>
<circle cx="884.05" cy="1145.76" r="0.52"/>
<circle cx="172.88" cy="1159.61" r="0.31"/>
<circle cx="204.14" cy="1159.61" r="0.31"/>
<circle cx="219.77" cy="1159.61" r="0.52"/>
<circle cx="251.03" cy="1159.61" r="0.63"/>
<circle cx="266.66" cy="1159.61" r="0.73"/>
<circle cx="297.92" cy="1159.61" r="0.84"/>
<circle cx="313.55" cy="1159.61" r="1.04"/>
<circle cx="344.81" cy="1159.61" r="1.46"/>
<circle cx="360.44" cy="1159.61" r="1.67"/>
<circle cx="391.7" cy="1159.61" r="1.99"/>
<circle cx="407.33" cy="1159.61" r="2.46"/>
<circle cx="438.59" cy="1159.61" r="3.34"/>
<circle cx="454.22" cy="1159.61" r="3.66"/>
<circle cx="485.48" cy="1159.61" r="4.7"/>
<circle cx="501.11" cy="1159.61" r="4.39"/>
<circle cx="532.37" cy="1159.61" r="4.39"/>
<circle cx="548" cy="1159.61" r="4.7"/>
<circle cx="579.26" cy="1159.61" r="3.66"/>
<circle cx="594.89" cy="1159.61" r="3.34"/>
<circle cx="626.15" cy="1159.61" r="2.46"/>
<circle cx="641.78" cy="1159.61" r="1.99"/>
<circle cx="673.04" cy="1159.61" r="1.67"/>
<circle cx="688.67" cy="1159.61" r="1.46"/>
<circle cx="719.93" cy="1159.61" r="1.04"/>
<circle cx="735.56" cy="1159.61" r="0.84"/>
<circle cx="766.82" cy="1159.61" r="0.73"/>
<circle cx="782.45" cy="1159.61" r="0.63"/>
<circle cx="813.71" cy="1159.61" r="0.52"/>
<circle cx="829.34" cy="1159.61" r="0.31"/>
<circle cx="860.6" cy="1159.61" r="0.31"/>
<circle cx="149.44" cy="1173.46" r="1.04"/>
<circle cx="180.69" cy="1173.46" r="0.31"/>
<circle cx="196.32" cy="1173.46" r="0.52"/>
<circle cx="227.58" cy="1173.46" r="0.52"/>
<circle cx="243.22" cy="1173.46" r="0.63"/>
<circle cx="274.48" cy="1173.46" r="0.73"/>
<circle cx="290.11" cy="1173.46" r="0.94"/>
<circle cx="321.37" cy="1173.46" r="1.57"/>
<circle cx="337" cy="1173.46" r="1.78"/>
<circle cx="368.25" cy="1173.46" r="1.99"/>
<circle cx="383.88" cy="1173.46" r="2.46"/>
<circle cx="415.14" cy="1173.46" r="3.13"/>
<circle cx="430.78" cy="1173.46" r="3.87"/>
<circle cx="462.04" cy="1173.46" r="4.91"/>
<circle cx="477.67" cy="1173.46" r="5.64"/>
<circle cx="508.93" cy="1173.46" r="8.26"/>
<circle cx="524.56" cy="1173.46" r="8.26"/>
<circle cx="555.82" cy="1173.46" r="5.64"/>
<circle cx="571.44" cy="1173.46" r="4.91"/>
<circle cx="602.7" cy="1173.46" r="3.87"/>
<circle cx="618.34" cy="1173.46" r="3.13"/>
<circle cx="649.6" cy="1173.46" r="2.46"/>
<circle cx="665.22" cy="1173.46" r="1.99"/>
<circle cx="696.48" cy="1173.46" r="1.78"/>
<circle cx="712.12" cy="1173.46" r="1.57"/>
<circle cx="743.38" cy="1173.46" r="0.94"/>
<circle cx="759.01" cy="1173.46" r="0.73"/>
<circle cx="790.27" cy="1173.46" r="0.63"/>
<circle cx="805.89" cy="1173.46" r="0.52"/>
<circle cx="837.15" cy="1173.46" r="0.52"/>
<circle cx="852.79" cy="1173.46" r="0.31"/>
<circle cx="884.05" cy="1173.46" r="1.04"/>
<circle cx="172.88" cy="1187.31" r="0.13"/>
<circle cx="204.14" cy="1187.31" r="0.17"/>
<circle cx="219.77" cy="1187.31" r="0.19"/>
<circle cx="251.03" cy="1187.31" r="0.24"/>
<circle cx="266.66" cy="1187.31" r="0.26"/>
<circle cx="297.92" cy="1187.31" r="0.31"/>
<circle cx="313.55" cy="1187.31" r="0.31"/>
<circle cx="344.81" cy="1187.31" r="0.47"/>
<circle cx="360.44" cy="1187.31" r="0.47"/>
<circle cx="391.7" cy="1187.31" r="0.52"/>
<circle cx="407.33" cy="1187.31" r="0.52"/>
<circle cx="438.59" cy="1187.31" r="0.63"/>
<circle cx="454.22" cy="1187.31" r="0.57"/>
<circle cx="485.48" cy="1187.31" r="0.57"/>
<circle cx="548" cy="1187.31" r="0.57"/>
<circle cx="579.26" cy="1187.31" r="0.57"/>
<circle cx="594.89" cy="1187.31" r="0.63"/>
<circle cx="626.15" cy="1187.31" r="0.52"/>
<circle cx="641.78" cy="1187.31" r="0.52"/>
<circle cx="673.04" cy="1187.31" r="0.47"/>
<circle cx="688.67" cy="1187.31" r="0.47"/>
<circle cx="719.93" cy="1187.31" r="0.31"/>
<circle cx="735.56" cy="1187.31" r="0.31"/>
<circle cx="766.82" cy="1187.31" r="0.26"/>
<circle cx="782.45" cy="1187.31" r="0.24"/>
<circle cx="813.71" cy="1187.31" r="0.19"/>
<circle cx="829.34" cy="1187.31" r="0.17"/>
<circle cx="860.6" cy="1187.31" r="0.13"/>
<circle cx="149.44" cy="1201.15" r="1.15"/>
<circle cx="180.69" cy="1201.15" r="0.63"/>
<circle cx="196.32" cy="1201.15" r="1.04"/>
<circle cx="227.58" cy="1201.15" r="1.25"/>
<circle cx="243.22" cy="1201.15" r="1.67"/>
<circle cx="274.48" cy="1201.15" r="1.88"/>
<circle cx="290.11" cy="1201.15" r="2.35"/>
<circle cx="321.37" cy="1201.15" r="3.08"/>
<circle cx="337" cy="1201.15" r="3.81"/>
<circle cx="368.25" cy="1201.15" r="4.39"/>
<circle cx="383.88" cy="1201.15" r="5.18"/>
<circle cx="415.14" cy="1201.15" r="6.27"/>
<circle cx="430.78" cy="1201.15" r="7.32"/>
<circle cx="462.04" cy="1201.15" r="9.14"/>
<circle cx="477.67" cy="1201.15" r="10.55"/>
<circle cx="508.93" cy="1201.15" r="14.94"/>
<circle cx="524.56" cy="1201.15" r="14.94"/>
<circle cx="555.82" cy="1201.15" r="10.55"/>
<circle cx="571.44" cy="1201.15" r="9.14"/>
<circle cx="602.7" cy="1201.15" r="7.32"/>
<circle cx="618.34" cy="1201.15" r="6.27"/>
<circle cx="649.6" cy="1201.15" r="5.18"/>
<circle cx="665.22" cy="1201.15" r="4.39"/>
<circle cx="696.48" cy="1201.15" r="3.81"/>
<circle cx="712.12" cy="1201.15" r="3.08"/>
<circle cx="743.38" cy="1201.15" r="2.35"/>
<circle cx="759.01" cy="1201.15" r="1.88"/>
<circle cx="790.27" cy="1201.15" r="1.67"/>
<circle cx="805.89" cy="1201.15" r="1.25"/>
<circle cx="837.15" cy="1201.15" r="1.05"/>
<circle cx="852.79" cy="1201.15" r="0.63"/>
<circle cx="884.05" cy="1201.15" r="1.15"/>
<circle cx="157.25" cy="1215" r="0.52"/>
<circle cx="172.88" cy="1215" r="1.25"/>
<circle cx="204.14" cy="1215" r="1.25"/>
<circle cx="219.77" cy="1215" r="1.67"/>
<circle cx="251.03" cy="1215" r="1.88"/>
<circle cx="266.66" cy="1215" r="2.46"/>
<circle cx="297.92" cy="1215" r="2.66"/>
<circle cx="313.55" cy="1215" r="3.4"/>
<circle cx="344.81" cy="1215" r="4.13"/>
<circle cx="360.44" cy="1215" r="4.91"/>
<circle cx="391.7" cy="1215" r="6.17"/>
<circle cx="407.33" cy="1215" r="7.58"/>
<circle cx="438.59" cy="1215" r="8.99"/>
<circle cx="454.22" cy="1215" r="10.35"/>
<circle cx="485.48" cy="1215" r="14.21"/>
<circle cx="501.11" cy="1215" r="15.78"/>
<circle cx="532.37" cy="1215" r="15.78"/>
<circle cx="548" cy="1215" r="14.21"/>
<circle cx="579.26" cy="1215" r="10.35"/>
<circle cx="594.89" cy="1215" r="8.99"/>
<circle cx="626.15" cy="1215" r="7.58"/>
<circle cx="641.78" cy="1215" r="6.17"/>
<circle cx="673.04" cy="1215" r="4.91"/>
<circle cx="688.67" cy="1215" r="4.13"/>
<circle cx="719.93" cy="1215" r="3.4"/>
<circle cx="735.56" cy="1215" r="2.66"/>
<circle cx="766.82" cy="1215" r="2.46"/>
<circle cx="782.45" cy="1215" r="1.88"/>
<circle cx="813.71" cy="1215" r="1.67"/>
<circle cx="829.34" cy="1215" r="1.25"/>
<circle cx="860.6" cy="1215" r="1.25"/>
<circle cx="876.23" cy="1215" r="0.52"/>
</g>
<g fill="#ff0000" fill-opacity="0.6">
<circle cx="157.25" cy="882.65" r="0.52"/>
<circle cx="172.88" cy="882.65" r="1.24"/>
<circle cx="204.14" cy="882.65" r="1.24"/>
<circle cx="219.77" cy="882.65" r="1.65"/>
<circle cx="251.03" cy="882.65" r="1.86"/>
<circle cx="266.66" cy="882.65" r="2.43"/>
<circle cx="297.92" cy="882.65" r="2.63"/>
<circle cx="313.55" cy="882.65" r="3.35"/>
<circle cx="344.81" cy="882.65" r="4.08"/>
<circle cx="360.44" cy="882.65" r="4.85"/>
<circle cx="391.7" cy="882.65" r="6.09"/>
<circle cx="407.33" cy="882.65" r="7.48"/>
<circle cx="438.59" cy="882.65" r="8.88"/>
<circle cx="454.22" cy="882.65" r="10.22"/>
<circle cx="485.48" cy="882.65" r="14.04"/>
<circle cx="501.11" cy="882.65" r="15.58"/>
<circle cx="532.37" cy="882.65" r="15.58"/>
<circle cx="548" cy="882.65" r="14.04"/>
<circle cx="579.26" cy="882.65" r="10.22"/>
<circle cx="594.89" cy="882.65" r="8.88"/>
<circle cx="626.15" cy="882.65" r="7.48"/>
<circle cx="641.78" cy="882.65" r="6.09"/>
<circle cx="673.04" cy="882.65" r="4.85"/>
<circle cx="688.67" cy="882.65" r="4.08"/>
<circle cx="719.93" cy="882.65" r="3.35"/>
<circle cx="735.56" cy="882.65" r="2.63"/>
<circle cx="766.82" cy="882.65" r="2.43"/>
<circle cx="782.45" cy="882.65" r="1.86"/>
<circle cx="813.71" cy="882.65" r="1.65"/>
<circle cx="829.34" cy="882.65" r="1.24"/>
<circle cx="860.6" cy="882.65" r="1.24"/>
<circle cx="876.23" cy="882.65" r="0.52"/>
<circle cx="149.44" cy="896.5" r="1.14"/>
<circle cx="180.69" cy="896.5" r="0.62"/>
<circle cx="196.32" cy="896.5" r="1.03"/>
<circle cx="227.58" cy="896.5" r="1.24"/>
<circle cx="243.22" cy="896.5" r="1.65"/>
<circle cx="274.48" cy="896.5" r="1.86"/>
<circle cx="290.11" cy="896.5" r="2.32"/>
<circle cx="321.37" cy="896.5" r="3.04"/>
<circle cx="337" cy="896.5" r="3.77"/>
<circle cx="368.25" cy="896.5" r="4.33"/>
<circle cx="383.88" cy="896.5" r="5.12"/>
<circle cx="415.14" cy="896.5" r="6.19"/>
<circle cx="430.78" cy="896.5" r="7.22"/>
<circle cx="462.04" cy="896.5" r="9.03"/>
<circle cx="477.67" cy="896.5" r="10.42"/>
<circle cx="508.93" cy="896.5" r="14.76"/>
<circle cx="524.56" cy="896.5" r="14.76"/>
<circle cx="555.82" cy="896.5" r="10.42"/>
<circle cx="571.44" cy="896.5" r="9.03"/>
<circle cx="602.7" cy="896.5" r="7.22"/>
<circle cx="618.34" cy="896.5" r="6.19"/>
<circle cx="649.6" cy="896.5" r="5.12"/>
<circle cx="665.22" cy="896.5" r="4.33"/>
<circle cx="696.48" cy="896.5" r="3.77"/>
<circle cx="712.12" cy="896.5" r="3.04"/>
<circle cx="743.38" cy="896.5" r="2.32"/>
<circle cx="759.01" cy="896.5" r="1.86"/>
<circle cx="790.27" cy="896.5" r="1.65"/>
<circle cx="805.89" cy="896.5" r="1.24"/>
<circle cx="837.15" cy="896.5" r="1.03"/>
<circle cx="852.79" cy="896.5" r="0.62"/>
<circle cx="884.05" cy="896.5" r="1.14"/>
<circle cx="172.88" cy="910.35" r="0.13"/>
<circle cx="204.14" cy="910.35" r="0.17"/>
<circle cx="219.77" cy="910.35" r="0.19"/>
<circle cx="251.03" cy="910.35" r="0.24"/>
<circle cx="266.66" cy="910.35" r="0.26"/>
<circle cx="297.92" cy="910.35" r="0.31"/>
<circle cx="313.55" cy="910.35" r="0.31"/>
<circle cx="344.81" cy="910.35" r="0.46"/>
<circle cx="360.44" cy="910.35" r="0.46"/>
<circle cx="391.7" cy="910.35" r="0.52"/>
<circle cx="407.33" cy="910.35" r="0.52"/>
<circle cx="438.59" cy="910.35" r="0.62"/>
<circle cx="454.22" cy="910.35" r="0.57"/>
<circle cx="485.48" cy="910.35" r="0.57"/>
<circle cx="548" cy="910.35" r="0.57"/>
<circle cx="579.26" cy="910.35" r="0.57"/>
<circle cx="594.89" cy="910.35" r="0.62"/>
<circle cx="626.15" cy="910.35" r="0.52"/>
<circle cx="641.78" cy="910.35" r="0.52"/>
<circle cx="673.04" cy="910.35" r="0.46"/>
<circle cx="688.67" cy="910.35" r="0.46"/>
<circle cx="719.93" cy="910.35" r="0.31"/>
<circle cx="735.56" cy="910.35" r="0.31"/>
<circle cx="766.82" cy="910.35" r="0.26"/>
<circle cx="782.45" cy="910.35" r="0.24"/>
<circle cx="813.71" cy="910.35" r="0.19"/>
<circle cx="829.34" cy="910.35" r="0.17"/>
<circle cx="860.6" cy="910.35" r="0.13"/>
<circle cx="149.44" cy="924.19" r="1.03"/>
<circle cx="180.69" cy="924.19" r="0.31"/>
<circle cx="196.32" cy="924.19" r="0.52"/>
<circle cx="227.58" cy="924.19" r="0.52"/>
<circle cx="243.22" cy="924.19" r="0.62"/>
<circle cx="274.48" cy="924.19" r="0.72"/>
<circle cx="290.11" cy="924.19" r="0.93"/>
<circle cx="321.37" cy="924.19" r="1.55"/>
<circle cx="337" cy="924.19" r="1.75"/>
<circle cx="368.25" cy="924.19" r="1.96"/>
<circle cx="383.88" cy="924.19" r="2.43"/>
<circle cx="415.14" cy="924.19" r="3.1"/>
<circle cx="430.78" cy="924.19" r="3.82"/>
<circle cx="462.04" cy="924.19" r="4.85"/>
<circle cx="477.67" cy="924.19" r="5.57"/>
<circle cx="508.93" cy="924.19" r="8.15"/>
<circle cx="524.56" cy="924.19" r="8.15"/>
<circle cx="555.82" cy="924.19" r="5.57"/>
<circle cx="571.44" cy="924.19" r="4.85"/>
<circle cx="602.7" cy="924.19" r="3.82"/>
<circle cx="618.34" cy="924.19" r="3.1"/>
<circle cx="649.6" cy="924.19" r="2.43"/>
<circle cx="665.22" cy="924.19" r="1.96"/>
<circle cx="696.48" cy="924.19" r="1.75"/>
<circle cx="712.12" cy="924.19" r="1.55"/>
<circle cx="743.38" cy="924.19" r="0.93"/>
<circle cx="759.01" cy="924.19" r="0.72"/>
<circle cx="790.27" cy="924.19" r="0.62"/>
<circle cx="805.89" cy="924.19" r="0.52"/>
<circle cx="837.15" cy="924.19" r="0.52"/>
<circle cx="852.79" cy="924.19" r="0.31"/>
<circle cx="884.05" cy="924.19" r="1.03"/>
<circle cx="172.88" cy="938.04" r="0.31"/>
<circle cx="204.14" cy="938.04" r="0.31"/>
<circle cx="219.77" cy="938.04" r="0.52"/>
<circle cx="251.03" cy="938.04" r="0.62"/>
<circle cx="266.66" cy="938.04" r="0.72"/>
<circle cx="297.92" cy="938.04" r="0.83"/>
<circle cx="313.55" cy="938.04" r="1.03"/>
<circle cx="344.81" cy="938.04" r="1.44"/>
<circle cx="360.44" cy="938.04" r="1.65"/>
<circle cx="391.7" cy="938.04" r="1.96"/>
<circle cx="407.33" cy="938.04" r="2.43"/>
<circle cx="438.59" cy="938.04" r="3.3"/>
<circle cx="454.22" cy="938.04" r="3.61"/>
<circle cx="485.48" cy="938.04" r="4.64"/>
<circle cx="501.11" cy="938.04" r="4.33"/>
<circle cx="532.37" cy="938.04" r="4.33"/>
<circle cx="548" cy="938.04" r="4.64"/>
<circle cx="579.26" cy="938.04" r="3.61"/>
<circle cx="594.89" cy="938.04" r="3.3"/>
<circle cx="626.15" cy="938.04" r="2.43"/>
<circle cx="641.78" cy="938.04" r="1.96"/>
<circle cx="673.04" cy="938.04" r="1.65"/>
<circle cx="688.67" cy="938.04" r="1.44"/>
<circle cx="719.93" cy="938.04" r="1.03"/>
<circle cx="735.56" cy="938.04" r="0.83"/>
<circle cx="766.82" cy="938.04" r="0.72"/>
<circle cx="782.45" cy="938.04" r="0.62"/>
<circle cx="813.71" cy="938.04" r="0.52"/>
<circle cx="829.34" cy="938.04" r="0.31"/>
<circle cx="860.6" cy="938.04" r="0.31"/>
<circle cx="149.44" cy="951.89" r="0.52"/>
<circle cx="462.04" cy="951.89" r="0.15"/>
<circle cx="477.67" cy="951.89" r="0.52"/>
<circle cx="508.93" cy="951.89" r="1.34"/>
<circle cx="524.56" cy="951.89" r="1.34"/>
<circle cx="555.82" cy="951.89" r="0.52"/>
<circle cx="571.44" cy="951.89" r="0.15"/>
<circle cx="884.05" cy="951.89" r="0.52"/>
<circle cx="172.88" cy="965.74" r="0.21"/>
<circle cx="204.14" cy="965.74" r="0.21"/>
<circle cx="219.77" cy="965.74" r="0.26"/>
<circle cx="251.03" cy="965.74" r="0.31"/>
<circle cx="266.66" cy="965.74" r="0.31"/>
<circle cx="297.92" cy="965.74" r="0.41"/>
<circle cx="313.55" cy="965.74" r="0.46"/>
<circle cx="344.81" cy="965.74" r="0.62"/>
<circle cx="360.44" cy="965.74" r="0.72"/>
<circle cx="391.7" cy="965.74" r="0.93"/>
<circle cx="407.33" cy="965.74" r="1.14"/>
<circle cx="438.59" cy="965.74" r="1.55"/>
<circle cx="454.22" cy="965.74" r="1.75"/>
<circle cx="485.48" cy="965.74" r="2.99"/>
<circle cx="501.11" cy="965.74" r="2.99"/>
<circle cx="532.37" cy="965.74" r="2.99"/>
<circle cx="548" cy="965.74" r="2.99"/>
<circle cx="579.26" cy="965.74" r="1.75"/>
<circle cx="594.89" cy="965.74" r="1.55"/>
<circle cx="626.15" cy="965.74" r="1.14"/>
<circle cx="641.78" cy="965.74" r="0.93"/>
<circle cx="673.04" cy="965.74" r="0.72"/>
<circle cx="688.67" cy="965.74" r="0.62"/>
<circle cx="719.93" cy="965.74" r="0.46"/>
<circle cx="735.56" cy="965.74" r="0.41"/>
<circle cx="766.82" cy="965.74" r="0.31"/>
<circle cx="782.45" cy="965.74" r="0.31"/>
<circle cx="813.71" cy="965.74" r="0.26"/>
<circle cx="829.34" cy="965.74" r="0.21"/>
<circle cx="860.6" cy="965.74" r="0.21"/>
<circle cx="149.44" cy="979.59" r="0.41"/>
<circle cx="196.32" cy="979.59" r="0.21"/>
<circle cx="227.58" cy="979.59" r="0.21"/>
<circle cx="243.22" cy="979.59" r="0.26"/>
<circle cx="274.48" cy="979.59" r="0.31"/>
<circle cx="290.11" cy="979.59" r="0.31"/>
<circle cx="321.37" cy="979.59" r="0.41"/>
<circle cx="337" cy="979.59" r="0.52"/>
<circle cx="368.25" cy="979.59" r="0.62"/>
<circle cx="383.88" cy="979.59" r="0.72"/>
<circle cx="415.14" cy="979.59" r="0.93"/>
<circle cx="430.78" cy="979.59" r="1.03"/>
<circle cx="462.04" cy="979.59" r="1.34"/>
<circle cx="477.67" cy="979.59" r="1.44"/>
<circle cx="508.93" cy="979.59" r="1.65"/>
<circle cx="524.56" cy="979.59" r="1.65"/>
<circle cx="555.82" cy="979.59" r="1.44"/>
<circle cx="571.44" cy="979.59" r="1.34"/>
<circle cx="602.7" cy="979.59" r="1.03"/>
<circle cx="618.34" cy="979.59" r="0.93"/>
<circle cx="649.6" cy="979.59" r="0.72"/>
<circle cx="665.22" cy="979.59" r="0.62"/>
<circle cx="696.48" cy="979.59" r="0.52"/>
<circle cx="712.12" cy="979.59" r="0.41"/>
<circle cx="743.38" cy="979.59" r="0.31"/>
<circle cx="759.01" cy="979.59" r="0.31"/>
<circle cx="790.27" cy="979.59" r="0.26"/>
<circle cx="805.89" cy="979.59" r="0.21"/>
<circle cx="837.15" cy="979.59" r="0.21"/>
<circle cx="884.05" cy="979.59" r="0.41"/>
<circle cx="438.59" cy="993.43" r="0.15"/>
<circle cx="454.22" cy="993.43" r="0.31"/>
<circle cx="485.48" cy="993.43" r="0.52"/>
<circle cx="501.11" cy="993.43" r="0.62"/>
<circle cx="532.37" cy="993.43" r="0.62"/>
<circle cx="548" cy="993.43" r="0.52"/>
<circle cx="579.26" cy="993.43" r="0.31"/>
<circle cx="594.89" cy="993.43" r="0.15"/>
<circle cx="227.58" cy="1007.28" r="0.13"/>
<circle cx="243.22" cy="1007.28" r="0.13"/>
<circle cx="274.48" cy="1007.28" r="0.14"/>
<circle cx="290.11" cy="1007.28" r="0.15"/>
<circle cx="321.37" cy="1007.28" r="0.15"/>
<circle cx="337" cy="1007.28" r="0.19"/>
<circle cx="368.25" cy="1007.28" r="0.26"/>
<circle cx="383.88" cy="1007.28" r="0.31"/>
<circle cx="415.14" cy="1007.28" r="0.41"/>
<circle cx="430.78" cy="1007.28" r="0.52"/>
<circle cx="462.04" cy="1007.28" r="0.93"/>
<circle cx="477.67" cy="1007.28" r="0.83"/>
<circle cx="508.93" cy="1007.28" r="1.34"/>
<circle cx="524.56" cy="1007.28" r="1.34"/>
<circle cx="555.82" cy="1007.28" r="0.83"/>
<circle cx="571.44" cy="1007.28" r="0.93"/>
<circle cx="602.7" cy="1007.28" r="0.52"/>
<circle cx="618.34" cy="1007.28" r="0.41"/>
<circle cx="649.6" cy="1007.28" r="0.31"/>
<circle cx="665.22" cy="1007.28" r="0.26"/>
<circle cx="696.48" cy="1007.28" r="0.19"/>
<circle cx="712.12" cy="1007.28" r="0.15"/>
<circle cx="743.38" cy="1007.28" r="0.15"/>
<circle cx="759.01" cy="1007.28" r="0.14"/>
<circle cx="790.27" cy="1007.28" r="0.13"/>
<circle cx="805.89" cy="1007.28" r="0.13"/>
<circle cx="297.92" cy="1021.13" r="0.12"/>
<circle cx="313.55" cy="1021.13" r="0.14"/>
<circle cx="344.81" cy="1021.13" r="0.17"/>
<circle cx="360.44" cy="1021.13" r="0.18"/>
<circle cx="391.7" cy="1021.13" r="0.21"/>
<circle cx="407.33" cy="1021.13" r="0.26"/>
<circle cx="438.59" cy="1021.13" r="0.36"/>
<circle cx="454.22" cy="1021.13" r="0.41"/>
<circle cx="485.48" cy="1021.13" r="0.46"/>
<circle cx="501.11" cy="1021.13" r="0.41"/>
<circle cx="532.37" cy="1021.13" r="0.41"/>
<circle cx="548" cy="1021.13" r="0.46"/>
<circle cx="579.26" cy="1021.13" r="0.41"/>
<circle cx="594.89" cy="1021.13" r="0.36"/>
<circle cx="626.15" cy="1021.13" r="0.26"/>
<circle cx="641.78" cy="1021.13" r="0.21"/>
<circle cx="673.04" cy="1021.13" r="0.18"/>
<circle cx="688.67" cy="1021.13" r="0.17"/>
<circle cx="719.93" cy="1021.13" r="0.14"/>
<circle cx="321.37" cy="1034.98" r="0.13"/>
<circle cx="337" cy="1034.98" r="0.15"/>
<circle cx="368.25" cy="1034.98" r="0.17"/>
<circle cx="383.88" cy="1034.98" r="0.18"/>
<circle cx="415.14" cy="1034.98" r="0.21"/>
<circle cx="430.78" cy="1034.98" r="0.24"/>
<circle cx="462.04" cy="1034.98" r="0.31"/>
<circle cx="477.67" cy="1034.98" r="0.36"/>
<circle cx="508.93" cy="1034.98" r="0.36"/>
<circle cx="524.56" cy="1034.98" r="0.36"/>
<circle cx="555.82" cy="1034.98" r="0.36"/>
<circle cx="571.44" cy="1034.98" r="0.31"/>
<circle cx="602.7" cy="1034.98" r="0.24"/>
<circle cx="618.34" cy="1034.98" r="0.21"/>
<circle cx="649.6" cy="1034.98" r="0.18"/>
<circle cx="665.22" cy="1034.98" r="0.17"/>
<circle cx="696.48" cy="1034.98" r="0.15"/>
<circle cx="712.12" cy="1034.98" r="0.13"/>
<circle cx="344.81" cy="1048.83" r="0.12"/>
<circle cx="360.44" cy="1048.83" r="0.13"/>
<circle cx="391.7" cy="1048.83" r="0.15"/>
<circle cx="407.33" cy="1048.83" r="0.2"/>
<circle cx="438.59" cy="1048.83" r="0.3"/>
<circle cx="454.22" cy="1048.83" r="0.3"/>
<circle cx="485.48" cy="1048.83" r="0.5"/>
<circle cx="501.11" cy="1048.83" r="0.4"/>
<circle cx="532.37" cy="1048.83" r="0.4"/>
<circle cx="548" cy="1048.83" r="0.5"/>
<circle cx="579.26" cy="1048.83" r="0.3"/>
<circle cx="594.89" cy="1048.83" r="0.3"/>
<circle cx="626.15" cy="1048.83" r="0.2"/>
<circle cx="641.78" cy="1048.83" r="0.15"/>
<circle cx="673.04" cy="1048.83" r="0.13"/>
<circle cx="688.67" cy="1048.83" r="0.12"/>
<circle cx="321.37" cy="1062.67" r="0.13"/>
<circle cx="337" cy="1062.67" r="0.14"/>
<circle cx="368.25" cy="1062.67" r="0.16"/>
<circle cx="383.88" cy="1062.67" r="0.18"/>
<circle cx="415.14" cy="1062.67" r="0.2"/>
<circle cx="430.78" cy="1062.67" r="0.23"/>
<circle cx="462.04" cy="1062.67" r="0.3"/>
<circle cx="477.67" cy="1062.67" r="0.35"/>
<circle cx="508.93" cy="1062.67" r="0.35"/>
<circle cx="524.56" cy="1062.67" r="0.35"/>
<circle cx="555.82" cy="1062.67" r="0.35"/>
<circle cx="571.44" cy="1062.67" r="0.3"/>
<circle cx="602.7" cy="1062.67" r="0.23"/>
<circle cx="618.34" cy="1062.67" r="0.2"/>
<circle cx="649.6" cy="1062.67" r="0.18"/>
<circle cx="665.22" cy="1062.67" r="0.16"/>
<circle cx="696.48" cy="1062.67" r="0.14"/>
<circle cx="712.12" cy="1062.67" r="0.13"/>
<circle cx="297.92" cy="1076.52" r="0.12"/>
<circle cx="313.55" cy="1076.52" r="0.13"/>
<circle cx="344.81" cy="1076.52" r="0.16"/>
<circle cx="360.44" cy="1076.52" r="0.17"/>
<circle cx="391.7" cy="1076.52" r="0.2"/>
<circle cx="407.33" cy="1076.52" r="0.25"/>
<circle cx="438.59" cy="1076.52" r="0.35"/>
<circle cx="454.22" cy="1076.52" r="0.4"/>
<circle cx="485.48" cy="1076.52" r="0.45"/>
<circle cx="501.11" cy="1076.52" r="0.4"/>
<circle cx="532.37" cy="1076.52" r="0.4"/>
<circle cx="548" cy="1076.52" r="0.45"/>
<circle cx="579.26" cy="1076.52" r="0.4"/>
<circle cx="594.89" cy="1076.52" r="0.35"/>
<circle cx="626.15" cy="1076.52" r="0.25"/>
<circle cx="641.78" cy="1076.52" r="0.2"/>
<circle cx="673.04" cy="1076.52" r="0.17"/>
<circle cx="688.67" cy="1076.52" r="0.16"/>
<circle cx="719.93" cy="1076.52" r="0.13"/>
<circle cx="227.58" cy="1090.37" r="0.12"/>
<circle cx="243.22" cy="1090.37" r="0.13"/>
<circle cx="274.48" cy="1090.37" r="0.14"/>
<circle cx="290.11" cy="1090.37" r="0.14"/>
<circle cx="321.37" cy="1090.37" r="0.15"/>
<circle cx="337" cy="1090.37" r="0.18"/>
<circle cx="368.25" cy="1090.37" r="0.25"/>
<circle cx="383.88" cy="1090.37" r="0.3"/>
<circle cx="415.14" cy="1090.37" r="0.4"/>
<circle cx="430.78" cy="1090.37" r="0.5"/>
<circle cx="462.04" cy="1090.37" r="0.9"/>
<circle cx="477.67" cy="1090.37" r="0.8"/>
<circle cx="508.93" cy="1090.37" r="1.3"/>
<circle cx="524.56" cy="1090.37" r="1.3"/>
<circle cx="555.82" cy="1090.37" r="0.8"/>
<circle cx="571.44" cy="1090.37" r="0.9"/>
<circle cx="602.7" cy="1090.37" r="0.5"/>
<circle cx="618.34" cy="1090.37" r="0.4"/>
<circle cx="649.6" cy="1090.37" r="0.3"/>
<circle cx="665.22" cy="1090.37" r="0.25"/>
<circle cx="696.48" cy="1090.37" r="0.18"/>
<circle cx="712.12" cy="1090.37" r="0.15"/>
<circle cx="743.38" cy="1090.37" r="0.14"/>
<circle cx="759.01" cy="1090.37" r="0.14"/>
<circle cx="790.27" cy="1090.37" r="0.13"/>
<circle cx="805.89" cy="1090.37" r="0.12"/>
<circle cx="438.59" cy="1104.22" r="0.15"/>
<circle cx="454.22" cy="1104.22" r="0.3"/>
<circle cx="485.48" cy="1104.22" r="0.5"/>
<circle cx="501.11" cy="1104.22" r="0.6"/>
<circle cx="532.37" cy="1104.22" r="0.6"/>
<circle cx="548" cy="1104.22" r="0.5"/>
<circle cx="579.26" cy="1104.22" r="0.3"/>
<circle cx="594.89" cy="1104.22" r="0.15"/>
<circle cx="149.44" cy="1118.07" r="0.4"/>
<circle cx="196.32" cy="1118.07" r="0.2"/>
<circle cx="227.58" cy="1118.07" r="0.2"/>
<circle cx="243.22" cy="1118.07" r="0.25"/>
<circle cx="274.48" cy="1118.07" r="0.3"/>
<circle cx="290.11" cy="1118.07" r="0.3"/>
<circle cx="321.37" cy="1118.07" r="0.4"/>
<circle cx="337" cy="1118.07" r="0.5"/>
<circle cx="368.25" cy="1118.07" r="0.6"/>
<circle cx="383.88" cy="1118.07" r="0.7"/>
<circle cx="415.14" cy="1118.07" r="0.9"/>
<circle cx="430.78" cy="1118.07" r="1"/>
<circle cx="462.04" cy="1118.07" r="1.3"/>
<circle cx="477.67" cy="1118.07" r="1.4"/>
<circle cx="508.93" cy="1118.07" r="1.6"/>
<circle cx="524.56" cy="1118.07" r="1.6"/>
<circle cx="555.82" cy="1118.07" r="1.4"/>
<circle cx="571.44" cy="1118.07" r="1.3"/>
<circle cx="602.7" cy="1118.07" r="1"/>
<circle cx="618.34" cy="1118.07" r="0.9"/>
<circle cx="649.6" cy="1118.07" r="0.7"/>
<circle cx="665.22" cy="1118.07" r="0.6"/>
<circle cx="696.48" cy="1118.07" r="0.5"/>
<circle cx="712.12" cy="1118.07" r="0.4"/>
<circle cx="743.38" cy="1118.07" r="0.3"/>
<circle cx="759.01" cy="1118.07" r="0.3"/>
<circle cx="790.27" cy="1118.07" r="0.25"/>
<circle cx="805.89" cy="1118.07" r="0.2"/>
<circle cx="837.15" cy="1118.07" r="0.2"/>
<circle cx="884.05" cy="1118.07" r="0.4"/>
<circle cx="172.88" cy="1131.91" r="0.2"/>
<circle cx="204.14" cy="1131.91" r="0.2"/>
<circle cx="219.77" cy="1131.91" r="0.25"/>
<circle cx="251.03" cy="1131.91" r="0.3"/>
<circle cx="266.66" cy="1131.91" r="0.3"/>
<circle cx="297.92" cy="1131.91" r="0.4"/>
<circle cx="313.55" cy="1131.91" r="0.45"/>
<circle cx="344.81" cy="1131.91" r="0.6"/>
<circle cx="360.44" cy="1131.91" r="0.7"/>
<circle cx="391.7" cy="1131.91" r="0.9"/>
<circle cx="407.33" cy="1131.91" r="1.1"/>
<circle cx="438.59" cy="1131.91" r="1.5"/>
<circle cx="454.22" cy="1131.91" r="1.7"/>
<circle cx="485.48" cy="1131.91" r="2.9"/>
<circle cx="501.11" cy="1131.91" r="2.9"/>
<circle cx="532.37" cy="1131.91" r="2.9"/>
<circle cx="548" cy="1131.91" r="2.9"/>
<circle cx="579.26" cy="1131.91" r="1.7"/>
<circle cx="594.89" cy="1131.91" r="1.5"/>
<circle cx="626.15" cy="1131.91" r="1.1"/>
<circle cx="641.78" cy="1131.91" r="0.9"/>
<circle cx="673.04" cy="1131.91" r="0.7"/>
<circle cx="688.67" cy="1131.91" r="0.6"/>
<circle cx="719.93" cy="1131.91" r="0.45"/>
<circle cx="735.56" cy="1131.91" r="0.4"/>
<circle cx="766.82" cy="1131.91" r="0.3"/>
<circle cx="782.45" cy="1131.91" r="0.3"/>
<circle cx="813.71" cy="1131.91" r="0.25"/>
<circle cx="829.34" cy="1131.91" r="0.2"/>
<circle cx="860.6" cy="1131.91" r="0.2"/>
<circle cx="149.44" cy="1145.76" r="0.5"/>
<circle cx="462.04" cy="1145.76" r="0.15"/>
<circle cx="477.67" cy="1145.76" r="0.5"/>
<circle cx="508.93" cy="1145.76" r="1.3"/>
<circle cx="524.56" cy="1145.76" r="1.3"/>
<circle cx="555.82" cy="1145.76" r="0.5"/>
<circle cx="571.44" cy="1145.76" r="0.15"/>
<circle cx="884.05" cy="1145.76" r="0.5"/>
<circle cx="172.88" cy="1159.61" r="0.3"/>
<circle cx="204.14" cy="1159.61" r="0.3"/>
<circle cx="219.77" cy="1159.61" r="0.5"/>
<circle cx="251.03" cy="1159.61" r="0.6"/>
<circle cx="266.66" cy="1159.61" r="0.7"/>
<circle cx="297.92" cy="1159.61" r="0.8"/>
<circle cx="313.55" cy="1159.61" r="1"/>
<circle cx="344.81" cy="1159.61" r="1.4"/>
<circle cx="360.44" cy="1159.61" r="1.6"/>
<circle cx="391.7" cy="1159.61" r="1.9"/>
<circle cx="407.33" cy="1159.61" r="2.35"/>
<circle cx="438.59" cy="1159.61" r="3.2"/>
<circle cx="454.22" cy="1159.61" r="3.5"/>
<circle cx="485.48" cy="1159.61" r="4.5"/>
<circle cx="501.11" cy="1159.61" r="4.2"/>
<circle cx="532.37" cy="1159.61" r="4.2"/>
<circle cx="548" cy="1159.61" r="4.5"/>
<circle cx="579.26" cy="1159.61" r="3.5"/>
<circle cx="594.89" cy="1159.61" r="3.2"/>
<circle cx="626.15" cy="1159.61" r="2.35"/>
<circle cx="641.78" cy="1159.61" r="1.9"/>
<circle cx="673.04" cy="1159.61" r="1.6"/>
<circle cx="688.67" cy="1159.61" r="1.4"/>
<circle cx="719.93" cy="1159.61" r="1"/>
<circle cx="735.56" cy="1159.61" r="0.8"/>
<circle cx="766.82" cy="1159.61" r="0.7"/>
<circle cx="782.45" cy="1159.61" r="0.6"/>
<circle cx="813.71" cy="1159.61" r="0.5"/>
<circle cx="829.34" cy="1159.61" r="0.3"/>
<circle cx="860.6" cy="1159.61" r="0.3"/>
<circle cx="149.44" cy="1173.46" r="1"/>
<circle cx="180.69" cy="1173.46" r="0.3"/>
<circle cx="196.32" cy="1173.46" r="0.5"/>
<circle cx="227.58" cy="1173.46" r="0.5"/>
<circle cx="243.22" cy="1173.46" r="0.6"/>
<circle cx="274.48" cy="1173.46" r="0.7"/>
<circle cx="290.11" cy="1173.46" r="0.9"/>
<circle cx="321.37" cy="1173.46" r="1.5"/>
<circle cx="337" cy="1173.46" r="1.7"/>
<circle cx="368.25" cy="1173.46" r="1.9"/>
<circle cx="383.88" cy="1173.46" r="2.35"/>
<circle cx="415.14" cy="1173.46" r="3"/>
<circle cx="430.78" cy="1173.46" r="3.7"/>
<circle cx="462.04" cy="1173.46" r="4.7"/>
<circle cx="477.67" cy="1173.46" r="5.4"/>
<circle cx="508.93" cy="1173.46" r="7.9"/>
<circle cx="524.56" cy="1173.46" r="7.9"/>
<circle cx="555.82" cy="1173.46" r="5.4"/>
<circle cx="571.44" cy="1173.46" r="4.7"/>
<circle cx="602.7" cy="1173.46" r="3.7"/>
<circle cx="618.34" cy="1173.46" r="3"/>
<circle cx="649.6" cy="1173.46" r="2.35"/>
<circle cx="665.22" cy="1173.46" r="1.9"/>
<circle cx="696.48" cy="1173.46" r="1.7"/>
<circle cx="712.12" cy="1173.46" r="1.5"/>
<circle cx="743.38" cy="1173.46" r="0.9"/>
<circle cx="759.01" cy="1173.46" r="0.7"/>
<circle cx="790.27" cy="1173.46" r="0.6"/>
<circle cx="805.89" cy="1173.46" r="0.5"/>
<circle cx="837.15" cy="1173.46" r="0.5"/>
<circle cx="852.79" cy="1173.46" r="0.3"/>
<circle cx="884.05" cy="1173.46" r="1"/>
<circle cx="172.88" cy="1187.31" r="0.12"/>
<circle cx="204.14" cy="1187.31" r="0.16"/>
<circle cx="219.77" cy="1187.31" r="0.19"/>
<circle cx="251.03" cy="1187.31" r="0.23"/>
<circle cx="266.66" cy="1187.31" r="0.25"/>
<circle cx="297.92" cy="1187.31" r="0.3"/>
<circle cx="313.55" cy="1187.31" r="0.3"/>
<circle cx="344.81" cy="1187.31" r="0.45"/>
<circle cx="360.44" cy="1187.31" r="0.45"/>
<circle cx="391.7" cy="1187.31" r="0.5"/>
<circle cx="407.33" cy="1187.31" r="0.5"/>
<circle cx="438.59" cy="1187.31" r="0.6"/>
<circle cx="454.22" cy="1187.31" r="0.55"/>
<circle cx="485.48" cy="1187.31" r="0.55"/>
<circle cx="548" cy="1187.31" r="0.55"/>
<circle cx="579.26" cy="1187.31" r="0.55"/>
<circle cx="594.89" cy="1187.31" r="0.6"/>
<circle cx="626.15" cy="1187.31" r="0.5"/>
<circle cx="641.78" cy="1187.31" r="0.5"/>
<circle cx="673.04" cy="1187.31" r="0.45"/>
<circle cx="688.67" cy="1187.31" r="0.45"/>
<circle cx="719.93" cy="1187.31" r="0.3"/>
<circle cx="735.56" cy="1187.31" r="0.3"/>
<circle cx="766.82" cy="1187.31" r="0.25"/>
<circle cx="782.45" cy="1187.31" r="0.23"/>
<circle cx="813.71" cy="1187.31" r="0.19"/>
<circle cx="829.34" cy="1187.31" r="0.16"/>
<circle cx="860.6" cy="1187.31" r="0.12"/>
<circle cx="149.44" cy="1201.15" r="1.1"/>
<circle cx="180.69" cy="1201.15" r="0.6"/>
<circle cx="196.32" cy="1201.15" r="1"/>
<circle cx="227.58" cy="1201.15" r="1.2"/>
<circle cx="243.22" cy="1201.15" r="1.6"/>
<circle cx="274.48" cy="1201.15" r="1.8"/>
<circle cx="290.11" cy="1201.15" r="2.25"/>
<circle cx="321.37" cy="1201.15" r="2.95"/>
<circle cx="337" cy="1201.15" r="3.65"/>
<circle cx="368.25" cy="1201.15" r="4.2"/>
<circle cx="383.88" cy="1201.15" r="4.96"/>
<circle cx="415.14" cy="1201.15" r="6"/>
<circle cx="430.78" cy="1201.15" r="7"/>
<circle cx="462.04" cy="1201.15" r="8.75"/>
<circle cx="477.67" cy="1201.15" r="10.1"/>
<circle cx="508.93" cy="1201.15" r="14.3"/>
<circle cx="524.56" cy="1201.15" r="14.3"/>
<circle cx="555.82" cy="1201.15" r="10.1"/>
<circle cx="571.44" cy="1201.15" r="8.75"/>
<circle cx="602.7" cy="1201.15" r="7"/>
<circle cx="618.34" cy="1201.15" r="6"/>
<circle cx="649.6" cy="1201.15" r="4.96"/>
<circle cx="665.22" cy="1201.15" r="4.2"/>
<circle cx="696.48" cy="1201.15" r="3.65"/>
<circle cx="712.12" cy="1201.15" r="2.95"/>
<circle cx="743.38" cy="1201.15" r="2.25"/>
<circle cx="759.01" cy="1201.15" r="1.8"/>
<circle cx="790.27" cy="1201.15" r="1.6"/>
<circle cx="805.89" cy="1201.15" r="1.2"/>
<circle cx="837.15" cy="1201.15" r="1"/>
<circle cx="852.79" cy="1201.15" r="0.6"/>
<circle cx="884.05" cy="1201.15" r="1.1"/>
<circle cx="157.25" cy="1215" r="0.5"/>
<circle cx="172.88" cy="1215" r="1.2"/>
<circle cx="204.14" cy="1215" r="1.2"/>
<circle cx="219.77" cy="1215" r="1.6"/>
<circle cx="251.03" cy="1215" r="1.8"/>
<circle cx="266.66" cy="1215" r="2.35"/>
<circle cx="297.92" cy="1215" r="2.55"/>
<circle cx="313.55" cy="1215" r="3.25"/>
<circle cx="344.81" cy="1215" r="3.95"/>
<circle cx="360.44" cy="1215" r="4.7"/>
<circle cx="391.7" cy="1215" r="5.9"/>
<circle cx="407.33" cy="1215" r="7.25"/>
<circle cx="438.59" cy="1215" r="8.6"/>
<circle cx="454.22" cy="1215" r="9.9"/>
<circle cx="485.48" cy="1215" r="13.6"/>
<circle cx="501.11" cy="1215" r="15.1"/>
<circle cx="532.37" cy="1215" r="15.1"/>
<circle cx="548" cy="1215" r="13.6"/>
<circle cx="579.26" cy="1215" r="9.9"/>
<circle cx="594.89" cy="1215" r="8.6"/>
<circle cx="626.15" cy="1215" r="7.25"/>
<circle cx="641.78" cy="1215" r="5.9"/>
<circle cx="673.04" cy="1215" r="4.7"/>
<circle cx="688.67" cy="1215" r="3.95"/>
<circle cx="719.93" cy="1215" r="3.25"/>
<circle cx="735.56" cy="1215" r="2.55"/>
<circle cx="766.82" cy="1215" r="2.35"/>
<circle cx="782.45" cy="1215" r="1.8"/>
<circle cx="813.71" cy="1215" r="1.6"/>
<circle cx="829.34" cy="1215" r="1.2"/>
<circle cx="860.6" cy="1215" r="1.2"/>
<circle cx="876.23" cy="1215" r="0.5"/>
</g>
<rect x="125.55" y="864.2" width="391.45" height="371.5" fill="#4472c4" fill-opacity="0.3"/>
<rect x="517" y="864.2" width="391.9" height="371.5" fill="#70ad47" fill-opacity="0.3"/>
<defs><g id="ro2">
<circle cx="158.1" r="4.25"/>
<circle cx="173.75" r="4.25"/>
<circle cx="205.05" r="4.25"/>
<circle cx="220.7" r="4.25"/>
<circle cx="252" r="4.25"/>
<circle cx="267.65" r="4.25"/>
<circle cx="298.95" r="4.25"/>
<circle cx="314.6" r="4.25"/>
<circle cx="345.9" r="4.25"/>
<circle cx="361.55" r="4.25"/>
<circle cx="392.85" r="4.25"/>
<circle cx="408.5" r="4.25"/>
<circle cx="439.8" r="4.25"/>
<circle cx="455.45" r="4.25"/>
<circle cx="486.75" r="4.25"/>
<circle cx="502.4" r="4.25"/>
<circle cx="533.7" r="4.25"/>
<circle cx="549.35" r="4.25"/>
<circle cx="580.65" r="4.25"/>
<circle cx="596.3" r="4.25"/>
<circle cx="627.6" r="4.25"/>
<circle cx="643.25" r="4.25"/>
<circle cx="674.55" r="4.25"/>
<circle cx="690.2" r="4.25"/>
<circle cx="721.5" r="4.25"/>
<circle cx="737.15" r="4.25"/>
<circle cx="768.45" r="4.25"/>
<circle cx="784.1" r="4.25"/>
<circle cx="815.4" r="4.25"/>
<circle cx="831.05" r="4.25"/>
<circle cx="862.35" r="4.25"/>
<circle cx="878" r="4.25"/>
</g><g id="re2">
<circle cx="150.28" r="4.25"/>
<circle cx="181.57" r="4.25"/>
<circle cx="197.23" r="4.25"/>
<circle cx="228.52" r="4.25"/>
<circle cx="244.18" r="4.25"/>
<circle cx="275.48" r="4.25"/>
<circle cx="291.12" r="4.25"/>
<circle cx="322.43" r="4.25"/>
<circle cx="338.08" r="4.25"/>
<circle cx="369.38" r="4.25"/>
<circle cx="385.02" r="4.25"/>
<circle cx="416.32" r="4.25"/>
<circle cx="431.98" r="4.25"/>
<circle cx="463.28" r="4.25"/>
<circle cx="478.93" r="4.25"/>
<circle cx="510.23" r="4.25"/>
<circle cx="525.88" r="4.25"/>
<circle cx="557.17" r="4.25"/>
<circle cx="572.83" r="4.25"/>
<circle cx="604.12" r="4.25"/>
<circle cx="619.77" r="4.25"/>
<circle cx="651.08" r="4.25"/>
<circle cx="666.73" r="4.25"/>
<circle cx="698.03" r="4.25"/>
<circle cx="713.68" r="4.25"/>
<circle cx="744.98" r="4.25"/>
<circle cx="760.62" r="4.25"/>
<circle cx="791.92" r="4.25"/>
<circle cx="807.58" r="4.25"/>
<circle cx="838.88" r="4.25"/>
<circle cx="854.52" r="4.25"/>
<circle cx="885.83" r="4.25"/>
</g></defs>
<g fill="#b4b4b4">
<use href="#ro2" y="1289.8"/>
<use href="#re2" y="1303.67"/>
<use href="#ro2" y="1317.54"/>
<use href="#re2" y="1331.41"/>
<use href="#ro2" y="1345.28"/>
<use href="#re2" y="1359.14"/>
<use href="#ro2" y="1373.01"/>
<use href="#re2" y="1386.88"/>
<use href="#ro2" y="1400.75"/>
<use href="#re2" y="1414.62"/>
<use href="#ro2" y="1428.49"/>
<use href="#re2" y="1442.36"/>
<use href="#ro2" y="1456.23"/>
<use href="#re2" y="1470.1"/>
<use href="#ro2" y="1483.97"/>
<use href="#re2" y="1497.84"/>
<use href="#ro2" y="1511.7"/>
<use href="#re2" y="1525.57"/>
<use href="#ro2" y="1539.44"/>
<use href="#re2" y="1553.31"/>
<use href="#ro2" y="1567.18"/>
<use href="#re2" y="1581.05"/>
<use href="#ro2" y="1594.92"/>
<use href="#re2" y="1608.79"/>
<use href="#ro2" y="1622.66"/>
</g>
<g fill="#0000ff" fill-opacity="0.8">
<circle cx="158.1" cy="1289.8" r="0.5"/>
<circle cx="173.75" cy="1289.8" r="1.2"/>
<circle cx="205.05" cy="1289.8" r="1.2"/>
<circle cx="220.7" cy="1289.8" r="1.6"/>
<circle cx="252" cy="1289.8" r="1.8"/>
<circle cx="267.65" cy="1289.8" r="2.35"/>
<circle cx="298.95" cy="1289.8" r="2.55"/>
<circle cx="314.6" cy="1289.8" r="3.25"/>
<circle cx="345.9" cy="1289.8" r="3.95"/>
<circle cx="361.55" cy="1289.8" r="4.7"/>
<circle cx="392.85" cy="1289.8" r="5.9"/>
<circle cx="408.5" cy="1289.8" r="7.25"/>
<circle cx="439.8" cy="1289.8" r="8.6"/>
<circle cx="455.45" cy="1289.8" r="9.9"/>
<circle cx="486.75" cy="1289.8" r="13.6"/>
<circle cx="502.4" cy="1289.8" r="15.1"/>
<circle cx="533.7" cy="1289.8" r="15.1"/>
<circle cx="549.35" cy="1289.8" r="13.6"/>
<circle cx="580.65" cy="1289.8" r="9.9"/>
<circle cx="596.3" cy="1289.8" r="8.6"/>
<circle cx="627.6" cy="1289.8" r="7.25"/>
<circle cx="643.25" cy="1289.8" r="5.9"/>
<circle cx="674.55" cy="1289.8" r="4.7"/>
<circle cx="690.2" cy="1289.8" r="3.95"/>
<circle cx="721.5" cy="1289.8" r="3.25"/>
<circle cx="737.15" cy="1289.8" r="2.55"/>
<circle cx="768.45" cy="1289.8" r="2.35"/>
<circle cx="784.1" cy="1289.8" r="1.8"/>
<circle cx="815.4" cy="1289.8" r="1.6"/>
<circle cx="831.05" cy="1289.8" r="1.2"/>
<circle cx="862.35" cy="1289.8" r="1.2"/>
<circle cx="878" cy="1289.8" r="0.5"/>
<circle cx="150.28" cy="1303.67" r="1.1"/>
<circle cx="181.57" cy="1303.67" r="0.6"/>
<circle cx="197.23" cy="1303.67" r="1"/>
<circle cx="228.52" cy="1303.67" r="1.2"/>
<circle cx="244.18" cy="1303.67" r="1.6"/>
<circle cx="275.48" cy="1303.67" r="1.8"/>
<circle cx="291.12" cy="1303.67" r="2.25"/>
<circle cx="322.43" cy="1303.67" r="2.95"/>
<circle cx="338.08" cy="1303.67" r="3.65"/>
<circle cx="369.38" cy="1303.67" r="4.2"/>
<circle cx="385.02" cy="1303.67" r="4.96"/>
<circle cx="416.32" cy="1303.67" r="6"/>
<circle cx="431.98" cy="1303.67" r="7"/>
<circle cx="463.28" cy="1303.67" r="8.75"/>
<circle cx="478.93" cy="1303.67" r="10.1"/>
<circle cx="510.23" cy="1303.67" r="14.3"/>
<circle cx="525.88" cy="1303.67" r="14.3"/>
<circle cx="557.17" cy="1303.67" r="10.1"/>
<circle cx="572.83" cy="1303.67" r="8.75"/>
<circle cx="604.12" cy="1303.67" r="7"/>
<circle cx="619.77" cy="1303.67" r="6"/>
<circle cx="651.08" cy="1303.67" r="4.96"/>
<circle cx="666.73" cy="1303.67" r="4.2"/>
<circle cx="698.03" cy="1303.67" r="3.65"/>
<circle cx="713.68" cy="1303.67" r="2.95"/>
<circle cx="744.98" cy="1303.67" r="2.25"/>
<circle cx="760.62" cy="1303.67" r="1.8"/>
<circle cx="791.92" cy="1303.67" r="1.6"/>
<circle cx="807.58" cy="1303.67" r="1.2"/>
<circle cx="838.88" cy="1303.67" r="1"/>
<circle cx="854.52" cy="1303.67" r="0.6"/>
<circle cx="885.83" cy="1303.67" r="1.1"/>
<circle cx="173.75" cy="1317.54" r="0.12"/>
<circle cx="205.05" cy="1317.54" r="0.16"/>
<circle cx="220.7" cy="1317.54" r="0.19"/>
<circle cx="252" cy="1317.54" r="0.23"/>
<circle cx="267.65" cy="1317.54" r="0.25"/>
<circle cx="298.95" cy="1317.54" r="0.3"/>
<circle cx="314.6" cy="1317.54" r="0.3"/>
<circle cx="345.9" cy="1317.54" r="0.45"/>
<circle cx="361.55" cy="1317.54" r="0.45"/>
<circle cx="392.85" cy="1317.54" r="0.5"/>
<circle cx="408.5" cy="1317.54" r="0.5"/>
<circle cx="439.8" cy="1317.54" r="0.6"/>
<circle cx="455.45" cy="1317.54" r="0.55"/>
<circle cx="486.75" cy="1317.54" r="0.55"/>
<circle cx="549.35" cy="1317.54" r="0.55"/>
<circle cx="580.65" cy="1317.54" r="0.55"/>
<circle cx="596.3" cy="1317.54" r="0.6"/>
<circle cx="627.6" cy="1317.54" r="0.5"/>
<circle cx="643.25" cy="1317.54" r="0.5"/>
<circle cx="674.55" cy="1317.54" r="0.45"/>
<circle cx="690.2" cy="1317.54" r="0.45"/>
<circle cx="721.5" cy="1317.54" r="0.3"/>
<circle cx="737.15" cy="1317.54" r="0.3"/>
<circle cx="768.45" cy="1317.54" r="0.25"/>
<circle cx="784.1" cy="1317.54" r="0.23"/>
<circle cx="815.4" cy="1317.54" r="0.19"/>
<circle cx="831.05" cy="1317.54" r="0.16"/>
<circle cx="862.35" cy="1317.54" r="0.12"/>
<circle cx="150.28" cy="1331.41" r="1"/>
<circle cx="181.57" cy="1331.41" r="0.3"/>
<circle cx="197.23" cy="1331.41" r="0.5"/>
<circle cx="228.52" cy="1331.41" r="0.5"/>
<circle cx="244.18" cy="1331.41" r="0.6"/>
<circle cx="275.48" cy="1331.41" r="0.7"/>
<circle cx="291.12" cy="1331.41" r="0.9"/>
<circle cx="322.43" cy="1331.41" r="1.5"/>
<circle cx="338.08" cy="1331.41" r="1.7"/>
<circle cx="369.38" cy="1331.41" r="1.9"/>
<circle cx="385.02" cy="1331.41" r="2.35"/>
<circle cx="416.32" cy="1331.41" r="3"/>
<circle cx="431.98" cy="1331.41" r="3.7"/>
<circle cx="463.28" cy="1331.41" r="4.7"/>
<circle cx="478.93" cy="1331.41" r="5.4"/>
<circle cx="510.23" cy="1331.41" r="7.9"/>
<circle cx="525.88" cy="1331.41" r="7.9"/>
<circle cx="557.17" cy="1331.41" r="5.4"/>
<circle cx="572.83" cy="1331.41" r="4.7"/>
<circle cx="604.12" cy="1331.41" r="3.7"/>
<circle cx="619.77" cy="1331.41" r="3"/>
<circle cx="651.08" cy="1331.41" r="2.35"/>
<circle cx="666.73" cy="1331.41" r="1.9"/>
<circle cx="698.03" cy="1331.41" r="1.7"/>
<circle cx="713.68" cy="1331.41" r="1.5"/>
<circle cx="744.98" cy="1331.41" r="0.9"/>
<circle cx="760.62" cy="1331.41" r="0.7"/>
<circle cx="791.92" cy="1331.41" r="0.6"/>
<circle cx="807.58" cy="1331.41" r="0.5"/>
<circle cx="838.88" cy="1331.41" r="0.5"/>
<circle cx="854.52" cy="1331.41" r="0.3"/>
<circle cx="885.83" cy="1331.41" r="1"/>
<circle cx="173.75" cy="1345.28" r="0.3"/>
<circle cx="205.05" cy="1345.28" r="0.3"/>
<circle cx="220.7" cy="1345.28" r="0.5"/>
<circle cx="252" cy="1345.28" r="0.6"/>
<circle cx="267.65" cy="1345.28" r="0.7"/>
<circle cx="298.95" cy="1345.28" r="0.8"/>
<circle cx="314.6" cy="1345.28" r="1"/>
<circle cx="345.9" cy="1345.28" r="1.4"/>
<circle cx="361.55" cy="1345.28" r="1.6"/>
<circle cx="392.85" cy="1345.28" r="1.9"/>
<circle cx="408.5" cy="1345.28" r="2.35"/>
<circle cx="439.8" cy="1345.28" r="3.2"/>
<circle cx="455.45" cy="1345.28" r="3.5"/>
<circle cx="486.75" cy="1345.28" r="4.5"/>
<circle cx="502.4" cy="1345.28" r="4.2"/>
<circle cx="533.7" cy="1345.28" r="4.2"/>
<circle cx="549.35" cy="1345.28" r="4.5"/>
<circle cx="580.65" cy="1345.28" r="3.5"/>
<circle cx="596.3" cy="1345.28" r="3.2"/>
<circle cx="627.6" cy="1345.28" r="2.35"/>
<circle cx="643.25" cy="1345.28" r="1.9"/>
<circle cx="674.55" cy="1345.28" r="1.6"/>
<circle cx="690.2" cy="1345.28" r="1.4"/>
<circle cx="721.5" cy="1345.28" r="1"/>
<circle cx="737.15" cy="1345.28" r="0.8"/>
<circle cx="768.45" cy="1345.28" r="0.7"/>
<circle cx="784.1" cy="1345.28" r="0.6"/>
<circle cx="815.4" cy="1345.28" r="0.5"/>
<circle cx="831.05" cy="1345.28" r="0.3"/>
<circle cx="862.35" cy="1345.28" r="0.3"/>
<circle cx="150.28" cy="1359.14" r="0.5"/>
<circle cx="463.28" cy="1359.14" r="0.15"/>
<circle cx="478.93" cy="1359.14" r="0.5"/>
<circle cx="510.23" cy="1359.14" r="1.3"/>
<circle cx="525.88" cy="1359.14" r="1.3"/>
<circle cx="557.17" cy="1359.14" r="0.5"/>
<circle cx="572.83" cy="1359.14" r="0.15"/>
<circle cx="885.83" cy="1359.14" r="0.5"/>
<circle cx="173.75" cy="1373.01" r="0.2"/>
<circle cx="205.05" cy="1373.01" r="0.2"/>
<circle cx="220.7" cy="1373.01" r="0.25"/>
<circle cx="252" cy="1373.01" r="0.3"/>
<circle cx="267.65" cy="1373.01" r="0.3"/>
<circle cx="298.95" cy="1373.01" r="0.4"/>
<circle cx="314.6" cy="1373.01" r="0.45"/>
<circle cx="345.9" cy="1373.01" r="0.6"/>
<circle cx="361.55" cy="1373.01" r="0.7"/>
<circle cx="392.85" cy="1373.01" r="0.9"/>
<circle cx="408.5" cy="1373.01" r="1.1"/>
<circle cx="439.8" cy="1373.01" r="1.5"/>
<circle cx="455.45" cy="1373.01" r="1.7"/>
<circle cx="486.75" cy="1373.01" r="2.9"/>
<circle cx="502.4" cy="1373.01" r="2.9"/>
<circle cx="533.7" cy="1373.01" r="2.9"/>
<circle cx="549.35" cy="1373.01" r="2.9"/>
<circle cx="580.65" cy="1373.01" r="1.7"/>
<circle cx="596.3" cy="1373.01" r="1.5"/>
<circle cx="627.6" cy="1373.01" r="1.1"/>
<circle cx="643.25" cy="1373.01" r="0.9"/>
<circle cx="674.55" cy="1373.01" r="0.7"/>
<circle cx="690.2" cy="1373.01" r="0.6"/>
<circle cx="721.5" cy="1373.01" r="0.45"/>
<circle cx="737.15" cy="1373.01" r="0.4"/>
<circle cx="768.45" cy="1373.01" r="0.3"/>
<circle cx="784.1" cy="1373.01" r="0.3"/>
<circle cx="815.4" cy="1373.01" r="0.25"/>
<circle cx="831.05" cy="1373.01" r="0.2"/>
<circle cx="862.35" cy="1373.01" r="0.2"/>
<circle cx="150.28" cy="1386.88" r="0.4"/>
<circle cx="197.23" cy="1386.88" r="0.2"/>
<circle cx="228.52" cy="1386.88" r="0.2"/>
<circle cx="244.18" cy="1386.88" r="0.25"/>
<circle cx="275.48" cy="1386.88" r="0.3"/>
<circle cx="291.12" cy="1386.88" r="0.3"/>
<circle cx="322.43" cy="1386.88" r="0.4"/>
<circle cx="338.08" cy="1386.88" r="0.5"/>
<circle cx="369.38" cy="1386.88" r="0.6"/>
<circle cx="385.02" cy="1386.88" r="0.7"/>
<circle cx="416.32" cy="1386.88" r="0.9"/>
<circle cx="431.98" cy="1386.88" r="1"/>
<circle cx="463.28" cy="1386.88" r="1.3"/>
<circle cx="478.93" cy="1386.88" r="1.4"/>
<circle cx="510.23" cy="1386.88" r="1.6"/>
<circle cx="525.88" cy="1386.88" r="1.6"/>
<circle cx="557.17" cy="1386.88" r="1.4"/>
<circle cx="572.83" cy="1386.88" r="1.3"/>
<circle cx="604.12" cy="1386.88" r="1"/>
<circle cx="619.77" cy="1386.88" r="0.9"/>
<circle cx="651.08" cy="1386.88" r="0.7"/>
<circle cx="666.73" cy="1386.88" r="0.6"/>
<circle cx="698.03" cy="1386.88" r="0.5"/>
<circle cx="713.68" cy="1386.88" r="0.4"/>
<circle cx="744.98" cy="1386.88" r="0.3"/>
<circle cx="760.62" cy="1386.88" r="0.3"/>
<circle cx="791.92" cy="1386.88" r="0.25"/>
<circle cx="807.58" cy="1386.88" r="0.2"/>
<circle cx="838.88" cy="1386.88" r="0.2"/>
<circle cx="885.83" cy="1386.88" r="0.4"/>
<circle cx="439.8" cy="1400.75" r="0.15"/>
<circle cx="455.45" cy="1400.75" r="0.3"/>
<circle cx="486.75" cy="1400.75" r="0.5"/>
<circle cx="502.4" cy="1400.75" r="0.6"/>
<circle cx="533.7" cy="1400.75" r="0.6"/>
<circle cx="549.35" cy="1400.75" r="0.5"/>
<circle cx="580.65" cy="1400.75" r="0.3"/>
<circle cx="596.3" cy="1400.75" r="0.15"/>
<circle cx="228.52" cy="1414.62" r="0.12"/>
<circle cx="244.18" cy="1414.62" r="0.13"/>
<circle cx="275.48" cy="1414.62" r="0.14"/>
<circle cx="291.12" cy="1414.62" r="0.14"/>
<circle cx="322.43" cy="1414.62" r="0.15"/>
<circle cx="338.08" cy="1414.62" r="0.18"/>
<circle cx="369.38" cy="1414.62" r="0.25"/>
<circle cx="385.02" cy="1414.62" r="0.3"/>
<circle cx="416.32" cy="1414.62" r="0.4"/>
<circle cx="431.98" cy="1414.62" r="0.5"/>
<circle cx="463.28" cy="1414.62" r="0.9"/>
<circle cx="478.93" cy="1414.62" r="0.8"/>
<circle cx="510.23" cy="1414.62" r="1.3"/>
<circle cx="525.88" cy="1414.62" r="1.3"/>
<circle cx="557.17" cy="1414.62" r="0.8"/>
<circle cx="572.83" cy="1414.62" r="0.9"/>
<circle cx="604.12" cy="1414.62" r="0.5"/>
<circle cx="619.77" cy="1414.62" r="0.4"/>
<circle cx="651.08" cy="1414.62" r="0.3"/>
<circle cx="666.73" cy="1414.62" r="0.25"/>
<circle cx="698.03" cy="1414.62" r="0.18"/>
<circle cx="713.68" cy="1414.62" r="0.15"/>
<circle cx="744.98" cy="1414.62" r="0.14"/>
<circle cx="760.62" cy="1414.62" r="0.14"/>
<circle cx="791.92" cy="1414.62" r="0.13"/>
<circle cx="807.58" cy="1414.62" r="0.12"/>
<circle cx="298.95" cy="1428.49" r="0.12"/>
<circle cx="314.6" cy="1428.49" r="0.13"/>
<circle cx="345.9" cy="1428.49" r="0.16"/>
<circle cx="361.55" cy="1428.49" r="0.17"/>
<circle cx="392.85" cy="1428.49" r="0.2"/>
<circle cx="408.5" cy="1428.49" r="0.25"/>
<circle cx="439.8" cy="1428.49" r="0.35"/>
<circle cx="455.45" cy="1428.49" r="0.4"/>
<circle cx="486.75" cy="1428.49" r="0.45"/>
<circle cx="502.4" cy="1428.49" r="0.4"/>
<circle cx="533.7" cy="1428.49" r="0.4"/>
<circle cx="549.35" cy="1428.49" r="0.45"/>
<circle cx="580.65" cy="1428.49" r="0.4"/>
<circle cx="596.3" cy="1428.49" r="0.35"/>
<circle cx="627.6" cy="1428.49" r="0.25"/>
<circle cx="643.25" cy="1428.49" r="0.2"/>
<circle cx="674.55" cy="1428.49" r="0.17"/>
<circle cx="690.2" cy="1428.49" r="0.16"/>
<circle cx="721.5" cy="1428.49" r="0.13"/>
<circle cx="322.43" cy="1442.36" r="0.13"/>
<circle cx="338.08" cy="1442.36" r="0.14"/>
<circle cx="369.38" cy="1442.36" r="0.16"/>
<circle cx="385.02" cy="1442.36" r="0.18"/>
<circle cx="416.32" cy="1442.36" r="0.2"/>
<circle cx="431.98" cy="1442.36" r="0.23"/>
<circle cx="463.28" cy="1442.36" r="0.3"/>
<circle cx="478.93" cy="1442.36" r="0.35"/>
<circle cx="510.23" cy="1442.36" r="0.35"/>
<circle cx="525.88" cy="1442.36" r="0.35"/>
<circle cx="557.17" cy="1442.36" r="0.35"/>
<circle cx="572.83" cy="1442.36" r="0.3"/>
<circle cx="604.12" cy="1442.36" r="0.23"/>
<circle cx="619.77" cy="1442.36" r="0.2"/>
<circle cx="651.08" cy="1442.36" r="0.18"/>
<circle cx="666.73" cy="1442.36" r="0.16"/>
<circle cx="698.03" cy="1442.36" r="0.14"/>
<circle cx="713.68" cy="1442.36" r="0.13"/>
<circle cx="345.9" cy="1456.23" r="0.12"/>
<circle cx="361.55" cy="1456.23" r="0.13"/>
<circle cx="392.85" cy="1456.23" r="0.15"/>
<circle cx="408.5" cy="1456.23" r="0.2"/>
<circle cx="439.8" cy="1456.23" r="0.3"/>
<circle cx="455.45" cy="1456.23" r="0.3"/>
<circle cx="486.75" cy="1456.23" r="0.5"/>
<circle cx="502.4" cy="1456.23" r="0.4"/>
<circle cx="533.7" cy="1456.23" r="0.4"/>
<circle cx="549.35" cy="1456.23" r="0.5"/>
<circle cx="580.65" cy="1456.23" r="0.3"/>
<circle cx="596.3" cy="1456.23" r="0.3"/>
<circle cx="627.6" cy="1456.23" r="0.2"/>
<circle cx="643.25" cy="1456.23" r="0.15"/>
<circle cx="674.55" cy="1456.23" r="0.13"/>
<circle cx="322.43" cy="1470.1" r="0.13"/>
<circle cx="338.08" cy="1470.1" r="0.14"/>
<circle cx="369.38" cy="1470.1" r="0.17"/>
<circle cx="385.02" cy="1470.1" r="0.18"/>
<circle cx="416.32" cy="1470.1" r="0.2"/>
<circle cx="431.98" cy="1470.1" r="0.24"/>
<circle cx="463.28" cy="1470.1" r="0.3"/>
<circle cx="478.93" cy="1470.1" r="0.35"/>
<circle cx="510.23" cy="1470.1" r="0.35"/>
<circle cx="525.88" cy="1470.1" r="0.35"/>
<circle cx="557.17" cy="1470.1" r="0.35"/>
<circle cx="572.83" cy="1470.1" r="0.3"/>
<circle cx="604.12" cy="1470.1" r="0.24"/>
<circle cx="619.77" cy="1470.1" r="0.2"/>
<circle cx="651.08" cy="1470.1" r="0.18"/>
<circle cx="666.73" cy="1470.1" r="0.17"/>
<circle cx="698.03" cy="1470.1" r="0.14"/>
<circle cx="713.68" cy="1470.1" r="0.13"/>
<circle cx="298.95" cy="1483.97" r="0.12"/>
<circle cx="314.6" cy="1483.97" r="0.13"/>
<circle cx="345.9" cy="1483.97" r="0.16"/>
<circle cx="361.55" cy="1483.97" r="0.18"/>
<circle cx="392.85" cy="1483.97" r="0.2"/>
<circle cx="408.5" cy="1483.97" r="0.25"/>
<circle cx="439.8" cy="1483.97" r="0.35"/>
<circle cx="455.45" cy="1483.97" r="0.4"/>
<circle cx="486.75" cy="1483.97" r="0.46"/>
<circle cx="502.4" cy="1483.97" r="0.4"/>
<circle cx="533.7" cy="1483.97" r="0.4"/>
<circle cx="549.35" cy="1483.97" r="0.46"/>
<circle cx="580.65" cy="1483.97" r="0.4"/>
<circle cx="596.3" cy="1483.97" r="0.35"/>
<circle cx="627.6" cy="1483.97" r="0.25"/>
<circle cx="643.25" cy="1483.97" r="0.2"/>
<circle cx="674.55" cy="1483.97" r="0.18"/>
<circle cx="690.2" cy="1483.97" r="0.16"/>
<circle cx="721.5" cy="1483.97" r="0.13"/>
<circle cx="228.52" cy="1497.84" r="0.12"/>
<circle cx="244.18" cy="1497.84" r="0.13"/>
<circle cx="275.48" cy="1497.84" r="0.14"/>
<circle cx="291.12" cy="1497.84" r="0.14"/>
<circle cx="322.43" cy="1497.84" r="0.15"/>
<circle cx="338.08" cy="1497.84" r="0.19"/>
<circle cx="369.38" cy="1497.84" r="0.25"/>
<circle cx="385.02" cy="1497.84" r="0.3"/>
<circle cx="416.32" cy="1497.84" r="0.4"/>
<circle cx="431.98" cy="1497.84" r="0.51"/>
<circle cx="463.28" cy="1497.84" r="0.91"/>
<circle cx="478.93" cy="1497.84" r="0.81"/>
<circle cx="510.23" cy="1497.84" r="1.32"/>
<circle cx="525.88" cy="1497.84" r="1.32"/>
<circle cx="557.17" cy="1497.84" r="0.81"/>
<circle cx="572.83" cy="1497.84" r="0.91"/>
<circle cx="604.12" cy="1497.84" r="0.51"/>
<circle cx="619.77" cy="1497.84" r="0.4"/>
<circle cx="651.08" cy="1497.84" r="0.3"/>
<circle cx="666.73" cy="1497.84" r="0.25"/>
<circle cx="698.03" cy="1497.84" r="0.19"/>
<circle cx="713.68" cy="1497.84" r="0.15"/>
<circle cx="744.98" cy="1497.84" r="0.14"/>
<circle cx="760.62" cy="1497.84" r="0.14"/>
<circle cx="791.92" cy="1497.84" r="0.13"/>
<circle cx="807.58" cy="1497.84" r="0.12"/>
<circle cx="439.8" cy="1511.7" r="0.15"/>
<circle cx="455.45" cy="1511.7" r="0.3"/>
<circle cx="486.75" cy="1511.7" r="0.51"/>
<circle cx="502.4" cy="1511.7" r="0.61"/>
<circle cx="533.7" cy="1511.7" r="0.61"/>
<circle cx="549.35" cy="1511.7" r="0.51"/>
<circle cx="580.65" cy="1511.7" r="0.3"/>
<circle cx="596.3" cy="1511.7" r="0.15"/>
<circle cx="150.28" cy="1525.57" r="0.4"/>
<circle cx="197.23" cy="1525.57" r="0.2"/>
<circle cx="228.52" cy="1525.57" r="0.2"/>
<circle cx="244.18" cy="1525.57" r="0.25"/>
<circle cx="275.48" cy="1525.57" r="0.3"/>
<circle cx="291.12" cy="1525.57" r="0.3"/>
<circle cx="322.43" cy="1525.57" r="0.4"/>
<circle cx="338.08" cy="1525.57" r="0.51"/>
<circle cx="369.38" cy="1525.57" r="0.61"/>
<circle cx="385.02" cy="1525.57" r="0.71"/>
<circle cx="416.32" cy="1525.57" r="0.91"/>
<circle cx="431.98" cy="1525.57" r="1.01"/>
<circle cx="463.28" cy="1525.57" r="1.32"/>
<circle cx="478.93" cy="1525.57" r="1.42"/>
<circle cx="510.23" cy="1525.57" r="1.62"/>
<circle cx="525.88" cy="1525.57" r="1.62"/>
<circle cx="557.17" cy="1525.57" r="1.42"/>
<circle cx="572.83" cy="1525.57" r="1.32"/>
<circle cx="604.12" cy="1525.57" r="1.01"/>
<circle cx="619.77" cy="1525.57" r="0.91"/>
<circle cx="651.08" cy="1525.57" r="0.71"/>
<circle cx="666.73" cy="1525.57" r="0.61"/>
<circle cx="698.03" cy="1525.57" r="0.51"/>
<circle cx="713.68" cy="1525.57" r="0.4"/>
<circle cx="744.98" cy="1525.57" r="0.3"/>
<circle cx="760.62" cy="1525.57" r="0.3"/>
<circle cx="791.92" cy="1525.57" r="0.25"/>
<circle cx="807.58" cy="1525.57" r="0.2"/>
<circle cx="838.88" cy="1525.57" r="0.2"/>
<circle cx="885.83" cy="1525.57" r="0.4"/>
<circle cx="173.75" cy="1539.44" r="0.2"/>
<circle cx="205.05" cy="1539.44" r="0.2"/>
<circle cx="220.7" cy="1539.44" r="0.25"/>
<circle cx="252" cy="1539.44" r="0.3"/>
<circle cx="267.65" cy="1539.44" r="0.3"/>
<circle cx="298.95" cy="1539.44" r="0.4"/>
<circle cx="314.6" cy="1539.44" r="0.46"/>
<circle cx="345.9" cy="1539.44" r="0.61"/>
<circle cx="361.55" cy="1539.44" r="0.71"/>
<circle cx="392.85" cy="1539.44" r="0.91"/>
<circle cx="408.5" cy="1539.44" r="1.11"/>
<circle cx="439.8" cy="1539.44" r="1.52"/>
<circle cx="455.45" cy="1539.44" r="1.72"/>
<circle cx="486.75" cy="1539.44" r="2.93"/>
<circle cx="502.4" cy="1539.44" r="2.93"/>
<circle cx="533.7" cy="1539.44" r="2.93"/>
<circle cx="549.35" cy="1539.44" r="2.93"/>
<circle cx="580.65" cy="1539.44" r="1.72"/>
<circle cx="596.3" cy="1539.44" r="1.52"/>
<circle cx="627.6" cy="1539.44" r="1.11"/>
<circle cx="643.25" cy="1539.44" r="0.91"/>
<circle cx="674.55" cy="1539.44" r="0.71"/>
<circle cx="690.2" cy="1539.44" r="0.61"/>
<circle cx="721.5" cy="1539.44" r="0.46"/>
<circle cx="737.15" cy="1539.44" r="0.4"/>
<circle cx="768.45" cy="1539.44" r="0.3"/>
<circle cx="784.1" cy="1539.44" r="0.3"/>
<circle cx="815.4" cy="1539.44" r="0.25"/>
<circle cx="831.05" cy="1539.44" r="0.2"/>
<circle cx="862.35" cy="1539.44" r="0.2"/>
<circle cx="150.28" cy="1553.31" r="0.51"/>
<circle cx="463.28" cy="1553.31" r="0.15"/>
<circle cx="478.93" cy="1553.31" r="0.51"/>
<circle cx="510.23" cy="1553.31" r="1.32"/>
<circle cx="525.88" cy="1553.31" r="1.32"/>
<circle cx="557.17" cy="1553.31" r="0.51"/>
<circle cx="572.83" cy="1553.31" r="0.15"/>
<circle cx="885.83" cy="1553.31" r="0.51"/>
<circle cx="173.75" cy="1567.18" r="0.3"/>
<circle cx="205.05" cy="1567.18" r="0.3"/>
<circle cx="220.7" cy="1567.18" r="0.51"/>
<circle cx="252" cy="1567.18" r="0.61"/>
<circle cx="267.65" cy="1567.18" r="0.71"/>
<circle cx="298.95" cy="1567.18" r="0.81"/>
<circle cx="314.6" cy="1567.18" r="1.01"/>
<circle cx="345.9" cy="1567.18" r="1.42"/>
<circle cx="361.55" cy="1567.18" r="1.62"/>
<circle cx="392.85" cy="1567.18" r="1.92"/>
<circle cx="408.5" cy="1567.18" r="2.38"/>
<circle cx="439.8" cy="1567.18" r="3.24"/>
<circle cx="455.45" cy="1567.18" r="3.54"/>
<circle cx="486.75" cy="1567.18" r="4.55"/>
<circle cx="502.4" cy="1567.18" r="4.25"/>
<circle cx="533.7" cy="1567.18" r="4.25"/>
<circle cx="549.35" cy="1567.18" r="4.55"/>
<circle cx="580.65" cy="1567.18" r="3.54"/>
<circle cx="596.3" cy="1567.18" r="3.24"/>
<circle cx="627.6" cy="1567.18" r="2.38"/>
<circle cx="643.25" cy="1567.18" r="1.92"/>
<circle cx="674.55" cy="1567.18" r="1.62"/>
<circle cx="690.2" cy="1567.18" r="1.42"/>
<circle cx="721.5" cy="1567.18" r="1.01"/>
<circle cx="737.15" cy="1567.18" r="0.81"/>
<circle cx="768.45" cy="1567.18" r="0.71"/>
<circle cx="784.1" cy="1567.18" r="0.61"/>
<circle cx="815.4" cy="1567.18" r="0.51"/>
<circle cx="831.05" cy="1567.18" r="0.3"/>
<circle cx="862.35" cy="1567.18" r="0.3"/>
<circle cx="150.28" cy="1581.05" r="1.01"/>
<circle cx="181.57" cy="1581.05" r="0.3"/>
<circle cx="197.23" cy="1581.05" r="0.51"/>
<circle cx="228.52" cy="1581.05" r="0.51"/>
<circle cx="244.18" cy="1581.05" r="0.61"/>
<circle cx="275.48" cy="1581.05" r="0.71"/>
<circle cx="291.12" cy="1581.05" r="0.91"/>
<circle cx="322.43" cy="1581.05" r="1.52"/>
<circle cx="338.08" cy="1581.05" r="1.72"/>
<circle cx="369.38" cy="1581.05" r="1.92"/>
<circle cx="385.02" cy="1581.05" r="2.38"/>
<circle cx="416.32" cy="1581.05" r="3.04"/>
<circle cx="431.98" cy="1581.05" r="3.74"/>
<circle cx="463.28" cy="1581.05" r="4.76"/>
<circle cx="478.93" cy="1581.05" r="5.46"/>
<circle cx="510.23" cy="1581.05" r="7.99"/>
<circle cx="525.88" cy="1581.05" r="7.99"/>
<circle cx="557.17" cy="1581.05" r="5.46"/>
<circle cx="572.83" cy="1581.05" r="4.76"/>
<circle cx="604.12" cy="1581.05" r="3.74"/>
<circle cx="619.77" cy="1581.05" r="3.04"/>
<circle cx="651.08" cy="1581.05" r="2.38"/>
<circle cx="666.73" cy="1581.05" r="1.92"/>
<circle cx="698.03" cy="1581.05" r="1.72"/>
<circle cx="713.68" cy="1581.05" r="1.52"/>
<circle cx="744.98" cy="1581.05" r="0.91"/>
<circle cx="760.62" cy="1581.05" r="0.71"/>
<circle cx="791.92" cy="1581.05" r="0.61"/>
<circle cx="807.58" cy="1581.05" r="0.51"/>
<circle cx="838.88" cy="1581.05" r="0.51"/>
<circle cx="854.52" cy="1581.05" r="0.3"/>
<circle cx="885.83" cy="1581.05" r="1.01"/>
<circle cx="173.75" cy="1594.92" r="0.12"/>
<circle cx="205.05" cy="1594.92" r="0.17"/>
<circle cx="220.7" cy="1594.92" r="0.19"/>
<circle cx="252" cy="1594.92" r="0.23"/>
<circle cx="267.65" cy="1594.92" r="0.25"/>
<circle cx="298.95" cy="1594.92" r="0.3"/>
<circle cx="314.6" cy="1594.92" r="0.3"/>
<circle cx="345.9" cy="1594.92" r="0.46"/>
<circle cx="361.55" cy="1594.92" r="0.46"/>
<circle cx="392.85" cy="1594.92" r="0.51"/>
<circle cx="408.5" cy="1594.92" r="0.51"/>
<circle cx="439.8" cy="1594.92" r="0.61"/>
<circle cx="455.45" cy="1594.92" r="0.56"/>
<circle cx="486.75" cy="1594.92" r="0.56"/>
<circle cx="549.35" cy="1594.92" r="0.56"/>
<circle cx="580.65" cy="1594.92" r="0.56"/>
<circle cx="596.3" cy="1594.92" r="0.61"/>
<circle cx="627.6" cy="1594.92" r="0.51"/>
<circle cx="643.25" cy="1594.92" r="0.51"/>
<circle cx="674.55" cy="1594.92" r="0.46"/>
<circle cx="690.2" cy="1594.92" r="0.46"/>
<circle cx="721.5" cy="1594.92" r="0.3"/>
<circle cx="737.15" cy="1594.92" r="0.3"/>
<circle cx="768.45" cy="1594.92" r="0.25"/>
<circle cx="784.1" cy="1594.92" r="0.23"/>
<circle cx="815.4" cy="1594.92" r="0.19"/>
<circle cx="831.05" cy="1594.92" r="0.17"/>
<circle cx="862.35" cy="1594.92" r="0.12"/>
<circle cx="150.28" cy="1608.79" r="1.11"/>
<circle cx="181.57" cy="1608.79" r="0.61"/>
<circle cx="197.23" cy="1608.79" r="1.01"/>
<circle cx="228.52" cy="1608.79" r="1.21"/>
<circle cx="244.18" cy="1608.79" r="1.62"/>
<circle cx="275.48" cy="1608.79" r="1.82"/>
<circle cx="291.12" cy="1608.79" r="2.28"/>
<circle cx="322.43" cy="1608.79" r="2.99"/>
<circle cx="338.08" cy="1608.79" r="3.69"/>
<circle cx="369.38" cy="1608.79" r="4.25"/>
<circle cx="385.02" cy="1608.79" r="5.02"/>
<circle cx="416.32" cy="1608.79" r="6.07"/>
<circle cx="431.98" cy="1608.79" r="7.08"/>
<circle cx="463.28" cy="1608.79" r="8.86"/>
<circle cx="478.93" cy="1608.79" r="10.22"/>
<circle cx="510.23" cy="1608.79" r="14.47"/>
<circle cx="525.88" cy="1608.79" r="14.47"/>
<circle cx="557.17" cy="1608.79" r="10.22"/>
<circle cx="572.83" cy="1608.79" r="8.85"/>
<circle cx="604.12" cy="1608.79" r="7.08"/>
<circle cx="619.77" cy="1608.79" r="6.07"/>
<circle cx="651.08" cy="1608.79" r="5.02"/>
<circle cx="666.73" cy="1608.79" r="4.25"/>
<circle cx="698.03" cy="1608.79" r="3.69"/>
<circle cx="713.68" cy="1608.79" r="2.99"/>
<circle cx="744.98" cy="1608.79" r="2.28"/>
<circle cx="760.62" cy="1608.79" r="1.82"/>
<circle cx="791.92" cy="1608.79" r="1.62"/>
<circle cx="807.58" cy="1608.79" r="1.21"/>
<circle cx="838.88" cy="1608.79" r="1.01"/>
<circle cx="854.52" cy="1608.79" r="0.61"/>
<circle cx="885.83" cy="1608.79" r="1.11"/>
<circle cx="158.1" cy="1622.66" r="0.51"/>
<circle cx="173.75" cy="1622.66" r="1.21"/>
<circle cx="205.05" cy="1622.66" r="1.21"/>
<circle cx="220.7" cy="1622.66" r="1.62"/>
<circle cx="252" cy="1622.66" r="1.82"/>
<circle cx="267.65" cy="1622.66" r="2.38"/>
<circle cx="298.95" cy="1622.66" r="2.58"/>
<circle cx="314.6" cy="1622.66" r="3.29"/>
<circle cx="345.9" cy="1622.66" r="4"/>
<circle cx="361.55" cy="1622.66" r="4.76"/>
<circle cx="392.85" cy="1622.66" r="5.97"/>
<circle cx="408.5" cy="1622.66" r="7.34"/>
<circle cx="439.8" cy="1622.66" r="8.7"/>
<circle cx="455.45" cy="1622.66" r="10.02"/>
<circle cx="486.75" cy="1622.66" r="13.76"/>
<circle cx="502.4" cy="1622.66" r="15.28"/>
<circle cx="533.7" cy="1622.66" r="15.28"/>
<circle cx="549.35" cy="1622.66" r="13.76"/>
<circle cx="580.65" cy="1622.66" r="10.02"/>
<circle cx="596.3" cy="1622.66" r="8.7"/>
<circle cx="627.6" cy="1622.66" r="7.34"/>
<circle cx="643.25" cy="1622.66" r="5.97"/>
<circle cx="674.55" cy="1622.66" r="4.76"/>
<circle cx="690.2" cy="1622.66" r="4"/>
<circle cx="721.5" cy="1622.66" r="3.29"/>
<circle cx="737.15" cy="1622.66" r="2.58"/>
<circle cx="768.45" cy="1622.66" r="2.38"/>
<circle cx="784.1" cy="1622.66" r="1.82"/>
<circle cx="815.4" cy="1622.66" r="1.62"/>
<circle cx="831.05" cy="1622.66" r="1.21"/>
<circle cx="862.35" cy="1622.66" r="1.21"/>
<circle cx="878" cy="1622.66" r="0.51"/>
</g>
<g fill="#ff0000" fill-opacity="0.6">
<circle cx="158.1" cy="1289.8" r="0.51"/>
<circle cx="173.75" cy="1289.8" r="1.22"/>
<circle cx="205.05" cy="1289.8" r="1.22"/>
<circle cx="220.7" cy="1289.8" r="1.63"/>
<circle cx="252" cy="1289.8" r="1.84"/>
<circle cx="267.65" cy="1289.8" r="2.4"/>
<circle cx="298.95" cy="1289.8" r="2.6"/>
<circle cx="314.6" cy="1289.8" r="3.32"/>
<circle cx="345.9" cy="1289.8" r="4.03"/>
<circle cx="361.55" cy="1289.8" r="4.79"/>
<circle cx="392.85" cy="1289.8" r="6.02"/>
<circle cx="408.5" cy="1289.8" r="7.4"/>
<circle cx="439.8" cy="1289.8" r="8.77"/>
<circle cx="455.45" cy="1289.8" r="10.1"/>
<circle cx="486.75" cy="1289.8" r="13.87"/>
<circle cx="502.4" cy="1289.8" r="15.4"/>
<circle cx="533.7" cy="1289.8" r="15.4"/>
<circle cx="549.35" cy="1289.8" r="13.87"/>
<circle cx="580.65" cy="1289.8" r="10.1"/>
<circle cx="596.3" cy="1289.8" r="8.77"/>
<circle cx="627.6" cy="1289.8" r="7.39"/>
<circle cx="643.25" cy="1289.8" r="6.02"/>
<circle cx="674.55" cy="1289.8" r="4.79"/>
<circle cx="690.2" cy="1289.8" r="4.03"/>
<circle cx="721.5" cy="1289.8" r="3.31"/>
<circle cx="737.15" cy="1289.8" r="2.6"/>
<circle cx="768.45" cy="1289.8" r="2.4"/>
<circle cx="784.1" cy="1289.8" r="1.84"/>
<circle cx="815.4" cy="1289.8" r="1.63"/>
<circle cx="831.05" cy="1289.8" r="1.22"/>
<circle cx="862.35" cy="1289.8" r="1.22"/>
<circle cx="878" cy="1289.8" r="0.51"/>
<circle cx="150.28" cy="1303.67" r="1.12"/>
<circle cx="181.57" cy="1303.67" r="0.61"/>
<circle cx="197.23" cy="1303.67" r="1.02"/>
<circle cx="228.52" cy="1303.67" r="1.22"/>
<circle cx="244.18" cy="1303.67" r="1.63"/>
<circle cx="275.48" cy="1303.67" r="1.84"/>
<circle cx="291.12" cy="1303.67" r="2.3"/>
<circle cx="322.43" cy="1303.67" r="3.01"/>
<circle cx="338.08" cy="1303.67" r="3.72"/>
<circle cx="369.38" cy="1303.67" r="4.28"/>
<circle cx="385.02" cy="1303.67" r="5.06"/>
<circle cx="416.32" cy="1303.67" r="6.12"/>
<circle cx="431.98" cy="1303.67" r="7.14"/>
<circle cx="463.28" cy="1303.67" r="8.93"/>
<circle cx="478.93" cy="1303.67" r="10.3"/>
<circle cx="510.23" cy="1303.67" r="14.59"/>
<circle cx="525.88" cy="1303.67" r="14.59"/>
<circle cx="557.17" cy="1303.67" r="10.3"/>
<circle cx="572.83" cy="1303.67" r="8.92"/>
<circle cx="604.12" cy="1303.67" r="7.14"/>
<circle cx="619.77" cy="1303.67" r="6.12"/>
<circle cx="651.08" cy="1303.67" r="5.06"/>
<circle cx="666.73" cy="1303.67" r="4.28"/>
<circle cx="698.03" cy="1303.67" r="3.72"/>
<circle cx="713.68" cy="1303.67" r="3.01"/>
<circle cx="744.98" cy="1303.67" r="2.29"/>
<circle cx="760.62" cy="1303.67" r="1.84"/>
<circle cx="791.92" cy="1303.67" r="1.63"/>
<circle cx="807.58" cy="1303.67" r="1.22"/>
<circle cx="838.88" cy="1303.67" r="1.02"/>
<circle cx="854.52" cy="1303.67" r="0.61"/>
<circle cx="885.83" cy="1303.67" r="1.12"/>
<circle cx="173.75" cy="1317.54" r="0.12"/>
<circle cx="205.05" cy="1317.54" r="0.17"/>
<circle cx="220.7" cy="1317.54" r="0.19"/>
<circle cx="252" cy="1317.54" r="0.23"/>
<circle cx="267.65" cy="1317.54" r="0.26"/>
<circle cx="298.95" cy="1317.54" r="0.31"/>
<circle cx="314.6" cy="1317.54" r="0.31"/>
<circle cx="345.9" cy="1317.54" r="0.46"/>
<circle cx="361.55" cy="1317.54" r="0.46"/>
<circle cx="392.85" cy="1317.54" r="0.51"/>
<circle cx="408.5" cy="1317.54" r="0.51"/>
<circle cx="439.8" cy="1317.54" r="0.61"/>
<circle cx="455.45" cy="1317.54" r="0.56"/>
<circle cx="486.75" cy="1317.54" r="0.56"/>
<circle cx="549.35" cy="1317.54" r="0.56"/>
<circle cx="580.65" cy="1317.54" r="0.56"/>
<circle cx="596.3" cy="1317.54" r="0.61"/>
<circle cx="627.6" cy="1317.54" r="0.51"/>
<circle cx="643.25" cy="1317.54" r="0.51"/>
<circle cx="674.55" cy="1317.54" r="0.46"/>
<circle cx="690.2" cy="1317.54" r="0.46"/>
<circle cx="721.5" cy="1317.54" r="0.31"/>
<circle cx="737.15" cy="1317.54" r="0.31"/>
<circle cx="768.45" cy="1317.54" r="0.25"/>
<circle cx="784.1" cy="1317.54" r="0.23"/>
<circle cx="815.4" cy="1317.54" r="0.19"/>
<circle cx="831.05" cy="1317.54" r="0.17"/>
<circle cx="862.35" cy="1317.54" r="0.12"/>
<circle cx="150.28" cy="1331.41" r="1.02"/>
<circle cx="181.57" cy="1331.41" r="0.31"/>
<circle cx="197.23" cy="1331.41" r="0.51"/>
<circle cx="228.52" cy="1331.41" r="0.51"/>
<circle cx="244.18" cy="1331.41" r="0.61"/>
<circle cx="275.48" cy="1331.41" r="0.71"/>
<circle cx="291.12" cy="1331.41" r="0.92"/>
<circle cx="322.43" cy="1331.41" r="1.53"/>
<circle cx="338.08" cy="1331.41" r="1.73"/>
<circle cx="369.38" cy="1331.41" r="1.94"/>
<circle cx="385.02" cy="1331.41" r="2.4"/>
<circle cx="416.32" cy="1331.41" r="3.06"/>
<circle cx="431.98" cy="1331.41" r="3.77"/>
<circle cx="463.28" cy="1331.41" r="4.79"/>
<circle cx="478.93" cy="1331.41" r="5.51"/>
<circle cx="510.23" cy="1331.41" r="8.06"/>
<circle cx="525.88" cy="1331.41" r="8.06"/>
<circle cx="557.17" cy="1331.41" r="5.51"/>
<circle cx="572.83" cy="1331.41" r="4.79"/>
<circle cx="604.12" cy="1331.41" r="3.77"/>
<circle cx="619.77" cy="1331.41" r="3.06"/>
<circle cx="651.08" cy="1331.41" r="2.4"/>
<circle cx="666.73" cy="1331.41" r="1.94"/>
<circle cx="698.03" cy="1331.41" r="1.73"/>
<circle cx="713.68" cy="1331.41" r="1.53"/>
<circle cx="744.98" cy="1331.41" r="0.92"/>
<circle cx="760.62" cy="1331.41" r="0.71"/>
<circle cx="791.92" cy="1331.41" r="0.61"/>
<circle cx="807.58" cy="1331.41" r="0.51"/>
<circle cx="838.88" cy="1331.41" r="0.51"/>
<circle cx="854.52" cy="1331.41" r="0.31"/>
<circle cx="885.83" cy="1331.41" r="1.02"/>
<circle cx="173.75" cy="1345.28" r="0.31"/>
<circle cx="205.05" cy="1345.28" r="0.31"/>
<circle cx="220.7" cy="1345.28" r="0.51"/>
<circle cx="252" cy="1345.28" r="0.61"/>
<circle cx="267.65" cy="1345.28" r="0.71"/>
<circle cx="298.95" cy="1345.28" r="0.82"/>
<circle cx="314.6" cy="1345.28" r="1.02"/>
<circle cx="345.9" cy="1345.28" r="1.43"/>
<circle cx="361.55" cy="1345.28" r="1.63"/>
<circle cx="392.85" cy="1345.28" r="1.94"/>
<circle cx="408.5" cy="1345.28" r="2.4"/>
<circle cx="439.8" cy="1345.28" r="3.26"/>
<circle cx="455.45" cy="1345.28" r="3.57"/>
<circle cx="486.75" cy="1345.28" r="4.59"/>
<circle cx="502.4" cy="1345.28" r="4.28"/>
<circle cx="533.7" cy="1345.28" r="4.28"/>
<circle cx="549.35" cy="1345.28" r="4.59"/>
<circle cx="580.65" cy="1345.28" r="3.57"/>
<circle cx="596.3" cy="1345.28" r="3.26"/>
<circle cx="627.6" cy="1345.28" r="2.4"/>
<circle cx="643.25" cy="1345.28" r="1.94"/>
<circle cx="674.55" cy="1345.28" r="1.63"/>
<circle cx="690.2" cy="1345.28" r="1.43"/>
<circle cx="721.5" cy="1345.28" r="1.02"/>
<circle cx="737.15" cy="1345.28" r="0.82"/>
<circle cx="768.45" cy="1345.28" r="0.71"/>
<circle cx="784.1" cy="1345.28" r="0.61"/>
<circle cx="815.4" cy="1345.28" r="0.51"/>
<circle cx="831.05" cy="1345.28" r="0.31"/>
<circle cx="862.35" cy="1345.28" r="0.31"/>
<circle cx="150.28" cy="1359.14" r="0.51"/>
<circle cx="463.28" cy="1359.14" r="0.15"/>
<circle cx="478.93" cy="1359.14" r="0.51"/>
<circle cx="510.23" cy="1359.14" r="1.33"/>
<circle cx="525.88" cy="1359.14" r="1.33"/>
<circle cx="557.17" cy="1359.14" r="0.51"/>
<circle cx="572.83" cy="1359.14" r="0.15"/>
<circle cx="885.83" cy="1359.14" r="0.51"/>
<circle cx="173.75" cy="1373.01" r="0.2"/>
<circle cx="205.05" cy="1373.01" r="0.2"/>
<circle cx="220.7" cy="1373.01" r="0.26"/>
<circle cx="252" cy="1373.01" r="0.31"/>
<circle cx="267.65" cy="1373.01" r="0.31"/>
<circle cx="298.95" cy="1373.01" r="0.41"/>
<circle cx="314.6" cy="1373.01" r="0.46"/>
<circle cx="345.9" cy="1373.01" r="0.61"/>
<circle cx="361.55" cy="1373.01" r="0.71"/>
<circle cx="392.85" cy="1373.01" r="0.92"/>
<circle cx="408.5" cy="1373.01" r="1.12"/>
<circle cx="439.8" cy="1373.01" r="1.53"/>
<circle cx="455.45" cy="1373.01" r="1.73"/>
<circle cx="486.75" cy="1373.01" r="2.96"/>
<circle cx="502.4" cy="1373.01" r="2.96"/>
<circle cx="533.7" cy="1373.01" r="2.96"/>
<circle cx="549.35" cy="1373.01" r="2.96"/>
<circle cx="580.65" cy="1373.01" r="1.73"/>
<circle cx="596.3" cy="1373.01" r="1.53"/>
<circle cx="627.6" cy="1373.01" r="1.12"/>
<circle cx="643.25" cy="1373.01" r="0.92"/>
<circle cx="674.55" cy="1373.01" r="0.71"/>
<circle cx="690.2" cy="1373.01" r="0.61"/>
<circle cx="721.5" cy="1373.01" r="0.46"/>
<circle cx="737.15" cy="1373.01" r="0.41"/>
<circle cx="768.45" cy="1373.01" r="0.31"/>
<circle cx="784.1" cy="1373.01" r="0.31"/>
<circle cx="815.4" cy="1373.01" r="0.25"/>
<circle cx="831.05" cy="1373.01" r="0.2"/>
<circle cx="862.35" cy="1373.01" r="0.2"/>
<circle cx="150.28" cy="1386.88" r="0.41"/>
<circle cx="197.23" cy="1386.88" r="0.2"/>
<circle cx="228.52" cy="1386.88" r="0.2"/>
<circle cx="244.18" cy="1386.88" r="0.26"/>
<circle cx="275.48" cy="1386.88" r="0.31"/>
<circle cx="291.12" cy="1386.88" r="0.31"/>
<circle cx="322.43" cy="1386.88" r="0.41"/>
<circle cx="338.08" cy="1386.88" r="0.51"/>
<circle cx="369.38" cy="1386.88" r="0.61"/>
<circle cx="385.02" cy="1386.88" r="0.71"/>
<circle cx="416.32" cy="1386.88" r="0.92"/>
<circle cx="431.98" cy="1386.88" r="1.02"/>
<circle cx="463.28" cy="1386.88" r="1.33"/>
<circle cx="478.93" cy="1386.88" r="1.43"/>
<circle cx="510.23" cy="1386.88" r="1.63"/>
<circle cx="525.88" cy="1386.88" r="1.63"/>
<circle cx="557.17" cy="1386.88" r="1.43"/>
<circle cx="572.83" cy="1386.88" r="1.33"/>
<circle cx="604.12" cy="1386.88" r="1.02"/>
<circle cx="619.77" cy="1386.88" r="0.92"/>
<circle cx="651.08" cy="1386.88" r="0.71"/>
<circle cx="666.73" cy="1386.88" r="0.61"/>
<circle cx="698.03" cy="1386.88" r="0.51"/>
<circle cx="713.68" cy="1386.88" r="0.41"/>
<circle cx="744.98" cy="1386.88" r="0.31"/>
<circle cx="760.62" cy="1386.88" r="0.31"/>
<circle cx="791.92" cy="1386.88" r="0.26"/>
<circle cx="807.58" cy="1386.88" r="0.2"/>
<circle cx="838.88" cy="1386.88" r="0.2"/>
<circle cx="885.83" cy="1386.88" r="0.41"/>
<circle cx="439.8" cy="1400.75" r="0.15"/>
<circle cx="455.45" cy="1400.75" r="0.31"/>
<circle cx="486.75" cy="1400.75" r="0.51"/>
<circle cx="502.4" cy="1400.75" r="0.61"/>
<circle cx="533.7" cy="1400.75" r="0.61"/>
<circle cx="549.35" cy="1400.75" r="0.51"/>
<circle cx="580.65" cy="1400.75" r="0.31"/>
<circle cx="596.3" cy="1400.75" r="0.15"/>
<circle cx="228.52" cy="1414.62" r="0.13"/>
<circle cx="244.18" cy="1414.62" r="0.13"/>
<circle cx="275.48" cy="1414.62" r="0.14"/>
<circle cx="291.12" cy="1414.62" r="0.14"/>
<circle cx="322.43" cy="1414.62" r="0.15"/>
<circle cx="338.08" cy="1414.62" r="0.19"/>
<circle cx="369.38" cy="1414.62" r="0.26"/>
<circle cx="385.02" cy="1414.62" r="0.31"/>
<circle cx="416.32" cy="1414.62" r="0.41"/>
<circle cx="431.98" cy="1414.62" r="0.51"/>
<circle cx="463.28" cy="1414.62" r="0.92"/>
<circle cx="478.93" cy="1414.62" r="0.82"/>
<circle cx="510.23" cy="1414.62" r="1.33"/>
<circle cx="525.88" cy="1414.62" r="1.33"/>
<circle cx="557.17" cy="1414.62" r="0.82"/>
<circle cx="572.83" cy="1414.62" r="0.92"/>
<circle cx="604.12" cy="1414.62" r="0.51"/>
<circle cx="619.77" cy="1414.62" r="0.41"/>
<circle cx="651.08" cy="1414.62" r="0.31"/>
<circle cx="666.73" cy="1414.62" r="0.25"/>
<circle cx="698.03" cy="1414.62" r="0.19"/>
<circle cx="713.68" cy="1414.62" r="0.15"/>
<circle cx="744.98" cy="1414.62" r="0.14"/>
<circle cx="760.62" cy="1414.62" r="0.14"/>
<circle cx="791.92" cy="1414.62" r="0.13"/>
<circle cx="807.58" cy="1414.62" r="0.13"/>
<circle cx="298.95" cy="1428.49" r="0.12"/>
<circle cx="314.6" cy="1428.49" r="0.14"/>
<circle cx="345.9" cy="1428.49" r="0.16"/>
<circle cx="361.55" cy="1428.49" r="0.18"/>
<circle cx="392.85" cy="1428.49" r="0.2"/>
<circle cx="408.5" cy="1428.49" r="0.26"/>
<circle cx="439.8" cy="1428.49" r="0.36"/>
<circle cx="455.45" cy="1428.49" r="0.41"/>
<circle cx="486.75" cy="1428.49" r="0.46"/>
<circle cx="502.4" cy="1428.49" r="0.41"/>
<circle cx="533.7" cy="1428.49" r="0.41"/>
<circle cx="549.35" cy="1428.49" r="0.46"/>
<circle cx="580.65" cy="1428.49" r="0.41"/>
<circle cx="596.3" cy="1428.49" r="0.36"/>
<circle cx="627.6" cy="1428.49" r="0.25"/>
<circle cx="643.25" cy="1428.49" r="0.2"/>
<circle cx="674.55" cy="1428.49" r="0.18"/>
<circle cx="690.2" cy="1428.49" r="0.16"/>
<circle cx="721.5" cy="1428.49" r="0.14"/>
<circle cx="322.43" cy="1442.36" r="0.13"/>
<circle cx="338.08" cy="1442.36" r="0.14"/>
<circle cx="369.38" cy="1442.36" r="0.17"/>
<circle cx="385.02" cy="1442.36" r="0.18"/>
<circle cx="416.32" cy="1442.36" r="0.2"/>
<circle cx="431.98" cy="1442.36" r="0.24"/>
<circle cx="463.28" cy="1442.36" r="0.31"/>
<circle cx="478.93" cy="1442.36" r="0.36"/>
<circle cx="510.23" cy="1442.36" r="0.36"/>
<circle cx="525.88" cy="1442.36" r="0.36"/>
<circle cx="557.17" cy="1442.36" r="0.36"/>
<circle cx="572.83" cy="1442.36" r="0.31"/>
<circle cx="604.12" cy="1442.36" r="0.24"/>
<circle cx="619.77" cy="1442.36" r="0.2"/>
<circle cx="651.08" cy="1442.36" r="0.18"/>
<circle cx="666.73" cy="1442.36" r="0.17"/>
<circle cx="698.03" cy="1442.36" r="0.14"/>
<circle cx="713.68" cy="1442.36" r="0.13"/>
<circle cx="345.9" cy="1456.23" r="0.12"/>
<circle cx="361.55" cy="1456.23" r="0.13"/>
<circle cx="392.85" cy="1456.23" r="0.15"/>
<circle cx="408.5" cy="1456.23" r="0.2"/>
<circle cx="439.8" cy="1456.23" r="0.3"/>
<circle cx="455.45" cy="1456.23" r="0.3"/>
<circle cx="486.75" cy="1456.23" r="0.5"/>
<circle cx="502.4" cy="1456.23" r="0.4"/>
<circle cx="533.7" cy="1456.23" r="0.4"/>
<circle cx="549.35" cy="1456.23" r="0.5"/>
<circle cx="580.65" cy="1456.23" r="0.3"/>
<circle cx="596.3" cy="1456.23" r="0.3"/>
<circle cx="627.6" cy="1456.23" r="0.2"/>
<circle cx="643.25" cy="1456.23" r="0.15"/>
<circle cx="674.55" cy="1456.23" r="0.13"/>
<circle cx="322.43" cy="1470.1" r="0.13"/>
<circle cx="338.08" cy="1470.1" r="0.14"/>
<circle cx="369.38" cy="1470.1" r="0.16"/>
<circle cx="385.02" cy="1470.1" r="0.18"/>
<circle cx="416.32" cy="1470.1" r="0.2"/>
<circle cx="431.98" cy="1470.1" r="0.23"/>
<circle cx="463.28" cy="1470.1" r="0.3"/>
<circle cx="478.93" cy="1470.1" r="0.35"/>
<circle cx="510.23" cy="1470.1" r="0.35"/>
<circle cx="525.88" cy="1470.1" r="0.35"/>
<circle cx="557.17" cy="1470.1" r="0.35"/>
<circle cx="572.83" cy="1470.1" r="0.3"/>
<circle cx="604.12" cy="1470.1" r="0.23"/>
<circle cx="619.77" cy="1470.1" r="0.2"/>
<circle cx="651.08" cy="1470.1" r="0.18"/>
<circle cx="666.73" cy="1470.1" r="0.16"/>
<circle cx="698.03" cy="1470.1" r="0.14"/>
<circle cx="713.68" cy="1470.1" r="0.13"/>
<circle cx="298.95" cy="1483.97" r="0.12"/>
<circle cx="314.6" cy="1483.97" r="0.13"/>
<circle cx="345.9" cy="1483.97" r="0.16"/>
<circle cx="361.55" cy="1483.97" r="0.17"/>
<circle cx="392.85" cy="1483.97" r="0.2"/>
<circle cx="408.5" cy="1483.97" r="0.25"/>
<circle cx="439.8" cy="1483.97" r="0.35"/>
<circle cx="455.45" cy="1483.97" r="0.4"/>
<circle cx="486.75" cy="1483.97" r="0.45"/>
<circle cx="502.4" cy="1483.97" r="0.4"/>
<circle cx="533.7" cy="1483.97" r="0.4"/>
<circle cx="549.35" cy="1483.97" r="0.45"/>
<circle cx="580.65" cy="1483.97" r="0.4"/>
<circle cx="596.3" cy="1483.97" r="0.35"/>
<circle cx="627.6" cy="1483.97" r="0.25"/>
<circle cx="643.25" cy="1483.97" r="0.2"/>
<circle cx="674.55" cy="1483.97" r="0.17"/>
<circle cx="690.2" cy="1483.97" r="0.16"/>
<circle cx="721.5" cy="1483.97" r="0.13"/>
<circle cx="228.52" cy="1497.84" r="0.12"/>
<circle cx="244.18" cy="1497.84" r="0.13"/>
<circle cx="275.48" cy="1497.84" r="0.14"/>
<circle cx="291.12" cy="1497.84" r="0.14"/>
<circle cx="322.43" cy="1497.84" r="0.15"/>
<circle cx="338.08" cy="1497.84" r="0.18"/>
<circle cx="369.38" cy="1497.84" r="0.25"/>
<circle cx="385.02" cy="1497.84" r="0.3"/>
<circle cx="416.32" cy="1497.84" r="0.4"/>
<circle cx="431.98" cy="1497.84" r="0.5"/>
<circle cx="463.28" cy="1497.84" r="0.9"/>
<circle cx="478.93" cy="1497.84" r="0.8"/>
<circle cx="510.23" cy="1497.84" r="1.3"/>
<circle cx="525.88" cy="1497.84" r="1.3"/>
<circle cx="557.17" cy="1497.84" r="0.8"/>
<circle cx="572.83" cy="1497.84" r="0.9"/>
<circle cx="604.12" cy="1497.84" r="0.5"/>
<circle cx="619.77" cy="1497.84" r="0.4"/>
<circle cx="651.08" cy="1497.84" r="0.3"/>
<circle cx="666.73" cy="1497.84" r="0.25"/>
<circle cx="698.03" cy="1497.84" r="0.18"/>
<circle cx="713.68" cy="1497.84" r="0.15"/>
<circle cx="744.98" cy="1497.84" r="0.14"/>
<circle cx="760.62" cy="1497.84" r="0.14"/>
<circle cx="791.92" cy="1497.84" r="0.13"/>
<circle cx="807.58" cy="1497.84" r="0.12"/>
<circle cx="439.8" cy="1511.7" r="0.15"/>
<circle cx="455.45" cy="1511.7" r="0.3"/>
<circle cx="486.75" cy="1511.7" r="0.5"/>
<circle cx="502.4" cy="1511.7" r="0.6"/>
<circle cx="533.7" cy="1511.7" r="0.6"/>
<circle cx="549.35" cy="1511.7" r="0.5"/>
<circle cx="580.65" cy="1511.7" r="0.3"/>
<circle cx="596.3" cy="1511.7" r="0.15"/>
<circle cx="150.28" cy="1525.57" r="0.4"/>
<circle cx="197.23" cy="1525.57" r="0.2"/>
<circle cx="228.52" cy="1525.57" r="0.2"/>
<circle cx="244.18" cy="1525.57" r="0.25"/>
<circle cx="275.48" cy="1525.57" r="0.3"/>
<circle cx="291.12" cy="1525.57" r="0.3"/>
<circle cx="322.43" cy="1525.57" r="0.4"/>
<circle cx="338.08" cy="1525.57" r="0.5"/>
<circle cx="369.38" cy="1525.57" r="0.6"/>
<circle cx="385.02" cy="1525.57" r="0.7"/>
<circle cx="416.32" cy="1525.57" r="0.9"/>
<circle cx="431.98" cy="1525.57" r="1"/>
<circle cx="463.28" cy="1525.57" r="1.3"/>
<circle cx="478.93" cy="1525.57" r="1.4"/>
<circle cx="510.23" cy="1525.57" r="1.6"/>
<circle cx="525.88" cy="1525.57" r="1.6"/>
<circle cx="557.17" cy="1525.57" r="1.4"/>
<circle cx="572.83" cy="1525.57" r="1.3"/>
<circle cx="604.12" cy="1525.57" r="1"/>
<circle cx="619.77" cy="1525.57" r="0.9"/>
<circle cx="651.08" cy="1525.57" r="0.7"/>
<circle cx="666.73" cy="1525.57" r="0.6"/>
<circle cx="698.03" cy="1525.57" r="0.5"/>
<circle cx="713.68" cy="1525.57" r="0.4"/>
<circle cx="744.98" cy="1525.57" r="0.3"/>
<circle cx="760.62" cy="1525.57" r="0.3"/>
<circle cx="791.92" cy="1525.57" r="0.25"/>
<circle cx="807.58" cy="1525.57" r="0.2"/>
<circle cx="838.88" cy="1525.57" r="0.2"/>
<circle cx="885.83" cy="1525.57" r="0.4"/>
<circle cx="173.75" cy="1539.44" r="0.2"/>
<circle cx="205.05" cy="1539.44" r="0.2"/>
<circle cx="220.7" cy="1539.44" r="0.25"/>
<circle cx="252" cy="1539.44" r="0.3"/>
<circle cx="267.65" cy="1539.44" r="0.3"/>
<circle cx="298.95" cy="1539.44" r="0.4"/>
<circle cx="314.6" cy="1539.44" r="0.45"/>
<circle cx="345.9" cy="1539.44" r="0.6"/>
<circle cx="361.55" cy="1539.44" r="0.7"/>
<circle cx="392.85" cy="1539.44" r="0.9"/>
<circle cx="408.5" cy="1539.44" r="1.1"/>
<circle cx="439.8" cy="1539.44" r="1.5"/>
<circle cx="455.45" cy="1539.44" r="1.7"/>
<circle cx="486.75" cy="1539.44" r="2.9"/>
<circle cx="502.4" cy="1539.44" r="2.9"/>
<circle cx="533.7" cy="1539.44" r="2.9"/>
<circle cx="549.35" cy="1539.44" r="2.9"/>
<circle cx="580.65" cy="1539.44" r="1.7"/>
<circle cx="596.3" cy="1539.44" r="1.5"/>
<circle cx="627.6" cy="1539.44" r="1.1"/>
<circle cx="643.25" cy="1539.44" r="0.9"/>
<circle cx="674.55" cy="1539.44" r="0.7"/>
<circle cx="690.2" cy="1539.44" r="0.6"/>
<circle cx="721.5" cy="1539.44" r="0.45"/>
<circle cx="737.15" cy="1539.44" r="0.4"/>
<circle cx="768.45" cy="1539.44" r="0.3"/>
<circle cx="784.1" cy="1539.44" r="0.3"/>
<circle cx="815.4" cy="1539.44" r="0.25"/>
<circle cx="831.05" cy="1539.44" r="0.2"/>
<circle cx="862.35" cy="1539.44" r="0.2"/>
<circle cx="150.28" cy="1553.31" r="0.5"/>
<circle cx="463.28" cy="1553.31" r="0.15"/>
<circle cx="478.93" cy="1553.31" r="0.5"/>
<circle cx="510.23" cy="1553.31" r="1.3"/>
<circle cx="525.88" cy="1553.31" r="1.3"/>
<circle cx="557.17" cy="1553.31" r="0.5"/>
<circle cx="572.83" cy="1553.31" r="0.15"/>
<circle cx="885.83" cy="1553.31" r="0.5"/>
<circle cx="173.75" cy="1567.18" r="0.3"/>
<circle cx="205.05" cy="1567.18" r="0.3"/>
<circle cx="220.7" cy="1567.18" r="0.5"/>
<circle cx="252" cy="1567.18" r="0.6"/>
<circle cx="267.65" cy="1567.18" r="0.7"/>
<circle cx="298.95" cy="1567.18" r="0.8"/>
<circle cx="314.6" cy="1567.18" r="1"/>
<circle cx="345.9" cy="1567.18" r="1.4"/>
<circle cx="361.55" cy="1567.18" r="1.6"/>
<circle cx="392.85" cy="1567.18" r="1.9"/>
<circle cx="408.5" cy="1567.18" r="2.35"/>
<circle cx="439.8" cy="1567.18" r="3.2"/>
<circle cx="455.45" cy="1567.18" r="3.5"/>
<circle cx="486.75" cy="1567.18" r="4.5"/>
<circle cx="502.4" cy="1567.18" r="4.2"/>
<circle cx="533.7" cy="1567.18" r="4.2"/>
<circle cx="549.35" cy="1567.18" r="4.5"/>
<circle cx="580.65" cy="1567.18" r="3.5"/>
<circle cx="596.3" cy="1567.18" r="3.2"/>
<circle cx="627.6" cy="1567.18" r="2.35"/>
<circle cx="643.25" cy="1567.18" r="1.9"/>
<circle cx="674.55" cy="1567.18" r="1.6"/>
<circle cx="690.2" cy="1567.18" r="1.4"/>
<circle cx="721.5" cy="1567.18" r="1"/>
<circle cx="737.15" cy="1567.18" r="0.8"/>
<circle cx="768.45" cy="1567.18" r="0.7"/>
<circle cx="784.1" cy="1567.18" r="0.6"/>
<circle cx="815.4" cy="1567.18" r="0.5"/>
<circle cx="831.05" cy="1567.18" r="0.3"/>
<circle cx="862.35" cy="1567.18" r="0.3"/>
<circle cx="150.28" cy="1581.05" r="1"/>
<circle cx="181.57" cy="1581.05" r="0.3"/>
<circle cx="197.23" cy="1581.05" r="0.5"/>
<circle cx="228.52" cy="1581.05" r="0.5"/>
<circle cx="244.18" cy="1581.05" r="0.6"/>
<circle cx="275.48" cy="1581.05" r="0.7"/>
<circle cx="291.12" cy="1581.05" r="0.9"/>
<circle cx="322.43" cy="1581.05" r="1.5"/>
<circle cx="338.08" cy="1581.05" r="1.7"/>
<circle cx="369.38" cy="1581.05" r="1.9"/>
<circle cx="385.02" cy="1581.05" r="2.35"/>
<circle cx="416.32" cy="1581.05" r="3"/>
<circle cx="431.98" cy="1581.05" r="3.7"/>
<circle cx="463.28" cy="1581.05" r="4.7"/>
<circle cx="478.93" cy="1581.05" r="5.4"/>
<circle cx="510.23" cy="1581.05" r="7.9"/>
<circle cx="525.88" cy="1581.05" r="7.9"/>
<circle cx="557.17" cy="1581.05" r="5.4"/>
<circle cx="572.83" cy="1581.05" r="4.7"/>
<circle cx="604.12" cy="1581.05" r="3.7"/>
<circle cx="619.77" cy="1581.05" r="3"/>
<circle cx="651.08" cy="1581.05" r="2.35"/>
<circle cx="666.73" cy="1581.05" r="1.9"/>
<circle cx="698.03" cy="1581.05" r="1.7"/>
<circle cx="713.68" cy="1581.05" r="1.5"/>
<circle cx="744.98" cy="1581.05" r="0.9"/>
<circle cx="760.62" cy="1581.05" r="0.7"/>
<circle cx="791.92" cy="1581.05" r="0.6"/>
<circle cx="807.58" cy="1581.05" r="0.5"/>
<circle cx="838.88" cy="1581.05" r="0.5"/>
<circle cx="854.52" cy="1581.05" r="0.3"/>
<circle cx="885.83" cy="1581.05" r="1"/>
<circle cx="173.75" cy="1594.92" r="0.12"/>
<circle cx="205.05" cy="1594.92" r="0.16"/>
<circle cx="220.7" cy="1594.92" r="0.19"/>
<circle cx="252" cy="1594.92" r="0.23"/>
<circle cx="267.65" cy="1594.92" r="0.25"/>
<circle cx="298.95" cy="1594.92" r="0.3"/>
<circle cx="314.6" cy="1594.92" r="0.3"/>
<circle cx="345.9" cy="1594.92" r="0.45"/>
<circle cx="361.55" cy="1594.92" r="0.45"/>
<circle cx="392.85" cy="1594.92" r="0.5"/>
<circle cx="408.5" cy="1594.92" r="0.5"/>
<circle cx="439.8" cy="1594.92" r="0.6"/>
<circle cx="455.45" cy="1594.92" r="0.55"/>
<circle cx="486.75" cy="1594.92" r="0.55"/>
<circle cx="549.35" cy="1594.92" r="0.55"/>
<circle cx="580.65" cy="1594.92" r="0.55"/>
<circle cx="596.3" cy="1594.92" r="0.6"/>
<circle cx="627.6" cy="1594.92" r="0.5"/>
<circle cx="643.25" cy="1594.92" r="0.5"/>
<circle cx="674.55" cy="1594.92" r="0.45"/>
<circle cx="690.2" cy="1594.92" r="0.45"/>
<circle cx="721.5" cy="1594.92" r="0.3"/>
<circle cx="737.15" cy="1594.92" r="0.3"/>
<circle cx="768.45" cy="1594.92" r="0.25"/>
<circle cx="784.1" cy="1594.92" r="0.23"/>
<circle cx="815.4" cy="1594.92" r="0.19"/>
<circle cx="831.05" cy="1594.92" r="0.16"/>
<circle cx="862.35" cy="1594.92" r="0.12"/>
<circle cx="150.28" cy="1608.79" r="1.1"/>
<circle cx="181.57" cy="1608.79" r="0.6"/>
<circle cx="197.23" cy="1608.79" r="1"/>
<circle cx="228.52" cy="1608.79" r="1.2"/>
<circle cx="244.18" cy="1608.79" r="1.6"/>
<circle cx="275.48" cy="1608.79" r="1.8"/>
<circle cx="291.12" cy="1608.79" r="2.25"/>
<circle cx="322.43" cy="1608.79" r="2.95"/>
<circle cx="338.08" cy="1608.79" r="3.65"/>
<circle cx="369.38" cy="1608.79" r="4.2"/>
<circle cx="385.02" cy="1608.79" r="4.96"/>
<circle cx="416.32" cy="1608.79" r="6"/>
<circle cx="431.98" cy="1608.79" r="7"/>
<circle cx="463.28" cy="1608.79" r="8.75"/>
<circle cx="478.93" cy="1608.79" r="10.1"/>
<circle cx="510.23" cy="1608.79" r="14.3"/>
<circle cx="525.88" cy="1608.79" r="14.3"/>
<circle cx="557.17" cy="1608.79" r="10.1"/>
<circle cx="572.83" cy="1608.79" r="8.75"/>
<circle cx="604.12" cy="1608.79" r="7"/>
<circle cx="619.77" cy="1608.79" r="6"/>
<circle cx="651.08" cy="1608.79" r="4.96"/>
<circle cx="666.73" cy="1608.79" r="4.2"/>
<circle cx="698.03" cy="1608.79" r="3.65"/>
<circle cx="713.68" cy="1608.79" r="2.95"/>
<circle cx="744.98" cy="1608.79" r="2.25"/>
<circle cx="760.62" cy="1608.79" r="1.8"/>
<circle cx="791.92" cy="1608.79" r="1.6"/>
<circle cx="807.58" cy="1608.79" r="1.2"/>
<circle cx="838.88" cy="1608.79" r="1"/>
<circle cx="854.52" cy="1608.79" r="0.6"/>
<circle cx="885.83" cy="1608.79" r="1.1"/>
<circle cx="158.1" cy="1622.66" r="0.5"/>
<circle cx="173.75" cy="1622.66" r="1.2"/>
<circle cx="205.05" cy="1622.66" r="1.2"/>
<circle cx="220.7" cy="1622.66" r="1.6"/>
<circle cx="252" cy="1622.66" r="1.8"/>
<circle cx="267.65" cy="1622.66" r="2.35"/>
<circle cx="298.95" cy="1622.66" r="2.55"/>
<circle cx="314.6" cy="1622.66" r="3.25"/>
<circle cx="345.9" cy="1622.66" r="3.95"/>
<circle cx="361.55" cy="1622.66" r="4.7"/>
<circle cx="392.85" cy="1622.66" r="5.9"/>
<circle cx="408.5" cy="1622.66" r="7.25"/>
<circle cx="439.8" cy="1622.66" r="8.6"/>
<circle cx="455.45" cy="1622.66" r="9.9"/>
<circle cx="486.75" cy="1622.66" r="13.6"/>
<circle cx="502.4" cy="1622.66" r="15.1"/>
<circle cx="533.7" cy="1622.66" r="15.1"/>
<circle cx="549.35" cy="1622.66" r="13.6"/>
<circle cx="580.65" cy="1622.66" r="9.9"/>
<circle cx="596.3" cy="1622.66" r="8.6"/>
<circle cx="627.6" cy="1622.66" r="7.25"/>
<circle cx="643.25" cy="1622.66" r="5.9"/>
<circle cx="674.55" cy="1622.66" r="4.7"/>
<circle cx="690.2" cy="1622.66" r="3.95"/>
<circle cx="721.5" cy="1622.66" r="3.25"/>
<circle cx="737.15" cy="1622.66" r="2.55"/>
<circle cx="768.45" cy="1622.66" r="2.35"/>
<circle cx="784.1" cy="1622.66" r="1.8"/>
<circle cx="815.4" cy="1622.66" r="1.6"/>
<circle cx="831.05" cy="1622.66" r="1.2"/>
<circle cx="862.35" cy="1622.66" r="1.2"/>
<circle cx="878" cy="1622.66" r="0.5"/>
</g>
<rect x="125.55" y="1271.15" width="391.55" height="371.15" fill="#4472c4" fill-opacity="0.3"/>
<rect x="517.1" y="1271.15" width="391.8" height="371.15" fill="#70ad47" fill-opacity="0.3"/>
<g fill="#000" font-family="'Liberation Serif',serif" font-size="40.2">
<text text-anchor="start" font-size="40.0" transform="translate(20.2 919.5) scale(1 0.95)">(e)</text>
<text text-anchor="start" font-size="40.0" transform="translate(20.2 1325.9) scale(1 0.95)">(f)</text>
</g>
</svg>
</body></html>
